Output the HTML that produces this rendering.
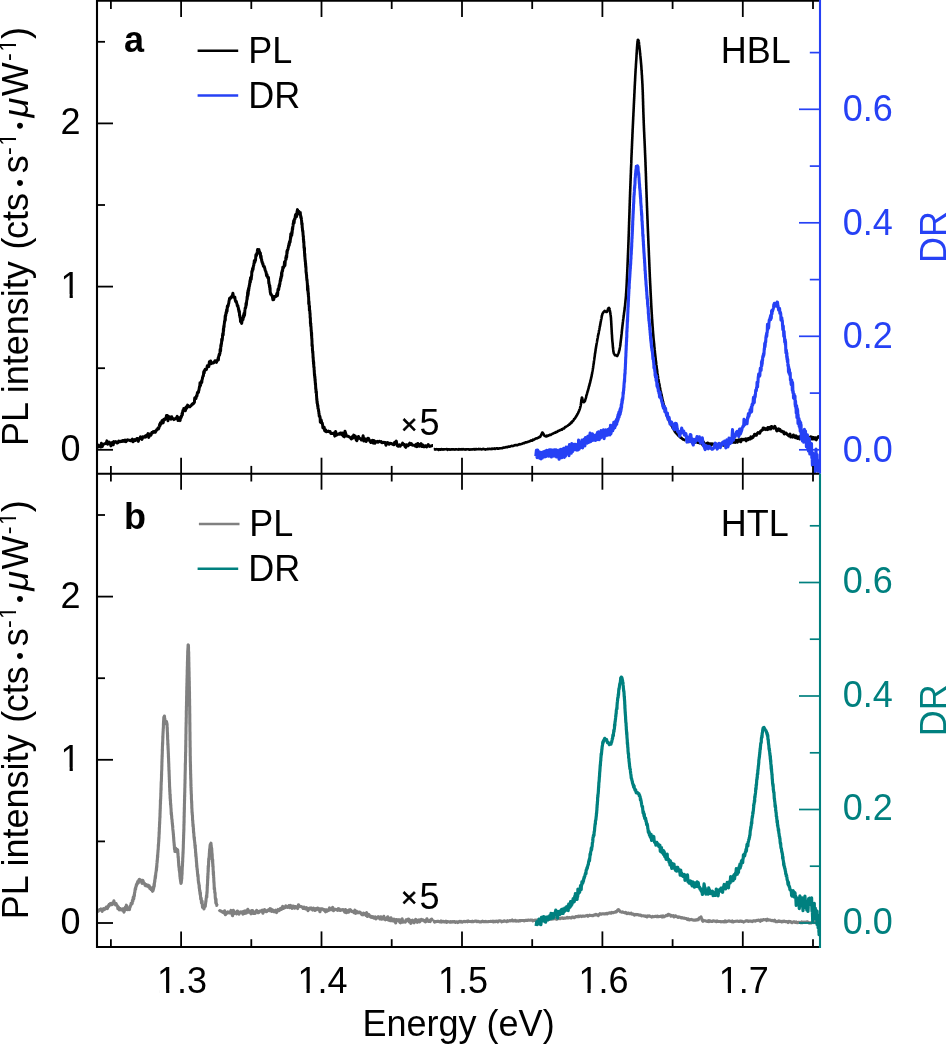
<!DOCTYPE html>
<html lang="en">
<head>
<meta charset="utf-8">
<title>PL intensity and DR spectra</title>
<style>
html,body{margin:0;padding:0;background:#fff;}
body{width:947px;height:1045px;overflow:hidden;font-family:"Liberation Sans",Arial,Helvetica,sans-serif;}
svg{display:block;}
</style>
</head>
<body>
<svg width="947" height="1045" viewBox="0 0 947 1045" font-family="'Liberation Sans', Arial, Helvetica, sans-serif" font-size="36">
<rect width="947" height="1045" fill="#fff"/>
<g>
<path d="M97.5,911.0 L98.2,911.2 L98.9,910.4 L99.5,909.5 L100.2,909.8 L100.9,909.0 L101.6,910.0 L102.2,911.3 L102.9,909.0 L103.6,908.6 L104.2,909.6 L104.9,909.2 L105.5,908.7 L106.2,907.2 L106.8,907.9 L107.4,908.5 L108.1,905.8 L108.6,906.5 L109.2,904.4 L109.7,904.6 L110.3,903.5 L110.8,904.9 L111.3,903.3 L111.9,904.7 L112.5,904.2 L113.2,903.5 L113.9,900.8 L114.5,903.3 L115.1,904.3 L115.6,904.9 L116.1,903.5 L116.6,905.3 L117.0,905.2 L117.5,906.0 L117.9,908.7 L118.4,907.0 L118.9,908.4 L119.4,909.9 L120.1,908.5 L120.7,909.4 L121.3,909.9 L122.0,910.1 L122.6,908.9 L123.3,910.5 L124.0,912.1 L124.5,908.3 L124.8,910.4 L125.1,908.9 L125.3,907.4 L125.5,909.8 L125.8,907.7 L126.4,905.2 L126.8,907.2 L127.1,908.4 L127.4,908.2 L127.8,909.7 L128.5,908.8 L129.0,909.2 L129.5,909.6 L129.9,906.5 L130.2,906.9 L130.5,905.6 L130.8,905.6 L131.1,903.4 L131.4,903.5 L131.6,903.3 L131.9,903.9 L132.2,903.5 L132.4,900.1 L132.7,900.0 L132.9,901.0 L133.2,897.3 L133.4,898.4 L133.5,898.2 L133.7,899.0 L133.9,897.7 L134.0,895.8 L134.1,895.1 L134.3,894.6 L134.4,895.9 L134.5,893.0 L134.7,892.4 L134.8,892.5 L134.9,891.3 L135.0,890.5 L135.2,888.7 L135.3,889.3 L135.4,888.1 L135.6,889.3 L135.7,888.0 L135.9,886.6 L136.1,886.7 L136.3,884.9 L136.5,885.8 L136.8,883.9 L137.2,884.1 L137.7,881.5 L138.3,882.9 L138.8,880.1 L139.4,879.3 L140.0,880.9 L140.6,880.0 L141.3,881.0 L142.0,883.4 L142.6,880.2 L143.1,880.9 L143.5,882.4 L143.9,883.3 L144.3,883.1 L144.7,883.7 L145.1,885.3 L145.5,885.7 L146.0,884.4 L146.6,885.9 L147.2,886.2 L147.9,885.1 L148.6,886.8 L149.2,885.7 L149.8,888.3 L150.2,888.0 L150.5,888.5 L150.8,888.3 L151.1,889.5 L151.5,887.9 L151.9,889.5 L152.5,891.3 L152.9,887.9 L153.1,890.7 L153.3,887.0 L153.5,889.2 L153.6,886.7 L153.8,887.9 L153.9,886.4 L154.1,883.8 L154.2,886.3 L154.3,885.9 L154.4,883.5 L154.5,882.5 L154.6,882.0 L154.7,880.3 L154.8,882.0 L154.9,879.4 L155.0,879.3 L155.1,877.8 L155.2,877.3 L155.3,875.8 L155.4,878.1 L155.5,875.7 L155.6,876.3 L155.7,874.5 L155.8,873.0 L155.9,872.8 L156.0,871.8 L156.1,871.8 L156.2,870.6 L156.3,870.0 L156.4,868.1 L156.5,868.0 L156.5,870.2 L156.6,866.8 L156.7,865.7 L156.7,866.6 L156.8,867.1 L156.9,863.1 L156.9,863.9 L157.0,862.7 L157.1,860.7 L157.1,862.9 L157.2,861.3 L157.3,860.7 L157.3,859.0 L157.4,859.7 L157.4,857.9 L157.5,857.7 L157.5,855.8 L157.6,855.0 L157.7,857.3 L157.7,854.4 L157.8,854.7 L157.8,853.6 L157.9,852.4 L157.9,851.7 L158.0,852.3 L158.0,850.5 L158.1,850.0 L158.1,849.5 L158.2,850.1 L158.2,848.8 L158.3,847.8 L158.3,846.0 L158.4,844.4 L158.4,846.3 L158.5,845.7 L158.5,843.7 L158.6,843.8 L158.6,843.4 L158.6,842.7 L158.7,842.1 L158.7,839.8 L158.8,841.4 L158.8,837.5 L158.9,839.3 L158.9,838.1 L159.0,837.9 L159.0,838.3 L159.0,837.2 L159.1,833.5 L159.1,832.1 L159.2,834.3 L159.2,831.5 L159.2,832.0 L159.3,832.2 L159.3,828.7 L159.3,827.5 L159.4,829.5 L159.4,828.5 L159.4,827.5 L159.5,827.1 L159.5,825.4 L159.5,823.9 L159.6,824.8 L159.6,823.2 L159.6,821.7 L159.7,823.5 L159.7,822.1 L159.7,822.0 L159.8,819.7 L159.8,819.3 L159.8,818.2 L159.8,817.7 L159.9,818.2 L159.9,816.4 L159.9,817.0 L160.0,816.3 L160.0,817.5 L160.0,812.9 L160.0,814.8 L160.1,813.0 L160.1,812.4 L160.1,810.0 L160.2,810.5 L160.2,811.2 L160.2,809.5 L160.2,809.0 L160.3,807.9 L160.3,808.8 L160.3,806.8 L160.4,803.6 L160.4,804.6 L160.4,802.4 L160.4,800.3 L160.5,802.7 L160.5,804.1 L160.5,802.0 L160.5,799.9 L160.6,799.4 L160.6,801.1 L160.6,799.3 L160.7,798.5 L160.7,797.7 L160.7,797.1 L160.7,797.2 L160.8,796.2 L160.8,795.2 L160.8,793.0 L160.8,794.1 L160.9,792.0 L160.9,793.4 L160.9,790.0 L161.0,790.6 L161.0,790.0 L161.0,787.8 L161.0,790.6 L161.1,789.6 L161.1,786.7 L161.1,787.4 L161.1,786.3 L161.2,782.1 L161.2,784.7 L161.2,783.7 L161.2,783.1 L161.3,781.1 L161.3,781.3 L161.3,780.7 L161.4,781.6 L161.4,779.9 L161.4,778.8 L161.4,779.9 L161.5,776.8 L161.5,776.3 L161.5,773.9 L161.5,777.1 L161.5,775.7 L161.6,775.0 L161.6,774.0 L161.6,772.7 L161.6,772.1 L161.7,770.8 L161.7,770.2 L161.7,769.8 L161.7,770.8 L161.8,769.0 L161.8,767.6 L161.8,766.3 L161.8,765.5 L161.8,767.4 L161.9,765.4 L161.9,764.2 L161.9,763.0 L161.9,761.5 L162.0,762.0 L162.0,762.3 L162.0,760.2 L162.0,759.7 L162.0,759.0 L162.1,758.7 L162.1,756.0 L162.1,756.9 L162.1,755.5 L162.2,756.8 L162.2,754.2 L162.2,755.0 L162.2,755.4 L162.3,752.6 L162.3,751.5 L162.3,751.8 L162.3,750.8 L162.3,749.0 L162.4,750.0 L162.4,751.1 L162.4,747.7 L162.4,747.1 L162.5,745.4 L162.5,746.3 L162.5,743.8 L162.5,743.3 L162.6,745.3 L162.6,742.1 L162.6,743.7 L162.7,743.5 L162.7,741.3 L162.7,741.0 L162.7,741.9 L162.8,738.7 L162.8,737.6 L162.8,736.0 L162.9,736.9 L162.9,737.9 L162.9,736.6 L163.0,733.7 L163.0,733.1 L163.0,732.8 L163.1,733.0 L163.1,731.7 L163.1,731.5 L163.2,730.9 L163.2,729.5 L163.2,729.1 L163.3,728.7 L163.3,727.7 L163.3,727.6 L163.4,728.5 L163.4,726.3 L163.4,725.0 L163.5,722.3 L163.5,724.0 L163.6,720.6 L163.6,720.5 L163.6,722.5 L163.7,721.6 L163.7,719.9 L163.8,717.4 L163.8,718.3 L163.9,717.2 L164.0,718.0 L164.0,719.2 L164.3,716.5 L164.4,716.0 L164.5,716.3 L164.6,718.2 L164.7,718.8 L164.8,718.4 L164.9,720.5 L165.0,719.8 L165.1,723.1 L165.3,723.7 L165.9,723.5 L166.5,721.5 L166.8,723.2 L166.9,723.1 L166.9,723.5 L167.0,724.3 L167.0,723.9 L167.1,724.4 L167.1,727.7 L167.1,727.3 L167.2,728.4 L167.2,730.0 L167.3,727.6 L167.3,729.4 L167.3,731.2 L167.4,732.1 L167.4,731.9 L167.4,734.3 L167.4,734.0 L167.5,733.1 L167.5,734.1 L167.5,736.8 L167.6,737.1 L167.6,735.1 L167.6,739.5 L167.7,739.3 L167.7,740.9 L167.7,739.6 L167.7,740.4 L167.8,740.2 L167.8,745.1 L167.8,742.7 L167.9,745.4 L167.9,743.5 L167.9,745.1 L168.0,743.7 L168.0,745.9 L168.0,748.2 L168.1,746.3 L168.1,749.7 L168.1,749.5 L168.2,748.6 L168.2,750.0 L168.2,750.7 L168.3,751.9 L168.3,752.0 L168.3,752.4 L168.3,753.7 L168.4,753.6 L168.4,754.0 L168.4,756.1 L168.5,757.9 L168.5,755.8 L168.5,758.2 L168.5,758.2 L168.6,758.5 L168.6,761.3 L168.6,760.4 L168.7,763.5 L168.7,761.5 L168.7,763.6 L168.7,763.6 L168.8,763.7 L168.8,765.9 L168.8,765.8 L168.8,767.3 L168.9,767.3 L168.9,766.8 L168.9,768.6 L168.9,769.5 L169.0,771.2 L169.0,769.8 L169.0,771.5 L169.1,770.3 L169.1,773.7 L169.1,772.4 L169.1,772.3 L169.2,775.0 L169.2,777.0 L169.2,774.7 L169.2,775.9 L169.3,777.0 L169.3,777.2 L169.3,779.7 L169.3,779.0 L169.4,779.8 L169.4,782.0 L169.4,781.2 L169.5,783.2 L169.5,782.3 L169.5,782.7 L169.5,782.7 L169.6,787.7 L169.6,785.9 L169.6,787.2 L169.7,787.6 L169.7,788.5 L169.7,789.1 L169.8,791.9 L169.8,789.2 L169.8,789.3 L169.9,790.7 L169.9,791.0 L169.9,794.1 L170.0,794.9 L170.0,793.5 L170.0,793.7 L170.1,795.6 L170.1,798.3 L170.2,794.2 L170.2,798.7 L170.3,797.6 L170.3,800.7 L170.4,799.0 L170.4,800.6 L170.5,799.9 L170.5,801.2 L170.5,804.6 L170.6,804.6 L170.6,803.9 L170.7,804.1 L170.7,803.6 L170.8,806.0 L170.9,807.1 L170.9,807.8 L171.0,808.5 L171.0,808.0 L171.1,809.9 L171.1,810.6 L171.2,812.9 L171.2,814.2 L171.3,812.6 L171.4,812.6 L171.4,814.1 L171.5,814.2 L171.5,814.7 L171.6,816.2 L171.7,815.7 L171.7,818.3 L171.8,818.2 L171.9,819.3 L171.9,819.5 L172.0,819.6 L172.1,820.0 L172.1,821.6 L172.2,821.9 L172.3,823.5 L172.3,823.9 L172.4,823.0 L172.5,825.4 L172.5,824.5 L172.6,826.0 L172.7,827.1 L172.7,825.7 L172.8,828.9 L172.9,829.7 L172.9,830.0 L173.0,830.4 L173.1,831.2 L173.1,831.2 L173.2,832.7 L173.3,833.0 L173.3,834.5 L173.4,833.7 L173.5,836.0 L173.5,836.6 L173.6,837.0 L173.6,837.4 L173.7,839.2 L173.7,837.3 L173.8,840.5 L173.9,840.9 L173.9,841.7 L174.0,842.5 L174.0,842.0 L174.1,843.1 L174.2,844.9 L174.2,845.3 L174.3,845.8 L174.3,844.5 L174.4,847.5 L174.5,849.0 L174.6,849.5 L174.7,849.3 L174.8,847.9 L174.9,851.5 L175.1,850.9 L175.8,848.3 L176.5,851.6 L177.2,849.5 L177.7,850.1 L177.8,851.5 L177.9,854.4 L178.0,853.2 L178.0,854.7 L178.1,857.1 L178.2,857.6 L178.2,856.3 L178.2,856.9 L178.3,856.4 L178.3,857.7 L178.4,859.7 L178.4,860.4 L178.5,860.8 L178.5,862.5 L178.6,861.1 L178.6,862.7 L178.7,864.3 L178.7,864.8 L178.8,866.1 L178.8,866.0 L178.9,865.9 L178.9,867.3 L179.0,866.5 L179.1,866.4 L179.2,869.7 L179.2,869.6 L179.3,870.7 L179.4,869.1 L179.5,871.4 L179.5,871.8 L179.6,872.2 L179.7,871.3 L179.8,874.2 L179.9,876.3 L179.9,876.4 L180.0,876.0 L180.1,877.3 L180.2,878.9 L180.3,875.6 L180.4,879.3 L180.5,880.7 L180.7,881.6 L180.9,883.4 L181.3,882.7 L181.4,881.0 L181.5,880.3 L181.6,880.2 L181.6,878.0 L181.7,877.9 L181.7,878.2 L181.8,878.8 L181.8,875.6 L181.9,875.1 L181.9,874.6 L182.0,875.3 L182.0,873.0 L182.1,874.0 L182.1,870.5 L182.1,870.7 L182.2,870.0 L182.2,870.4 L182.2,870.0 L182.3,866.4 L182.3,866.4 L182.4,867.1 L182.4,865.3 L182.4,863.6 L182.5,865.8 L182.5,864.5 L182.5,863.8 L182.6,862.0 L182.6,863.0 L182.6,860.9 L182.7,861.7 L182.7,858.7 L182.7,858.1 L182.8,858.6 L182.8,856.8 L182.8,857.7 L182.9,856.5 L182.9,854.5 L182.9,854.9 L183.0,853.7 L183.0,854.5 L183.0,852.0 L183.1,851.5 L183.1,852.7 L183.1,853.2 L183.1,852.2 L183.2,849.3 L183.2,848.8 L183.2,849.6 L183.3,847.0 L183.3,845.3 L183.3,845.9 L183.3,845.6 L183.4,843.4 L183.4,841.8 L183.4,841.3 L183.4,843.0 L183.5,840.7 L183.5,840.7 L183.5,840.4 L183.5,840.2 L183.5,838.4 L183.6,838.6 L183.6,836.3 L183.6,836.2 L183.6,834.8 L183.6,836.6 L183.7,834.5 L183.7,833.0 L183.7,832.7 L183.7,832.2 L183.8,832.6 L183.8,829.2 L183.8,829.2 L183.8,829.2 L183.8,831.9 L183.9,829.4 L183.9,827.4 L183.9,827.7 L183.9,828.5 L183.9,825.2 L183.9,824.3 L184.0,825.5 L184.0,823.9 L184.0,823.4 L184.0,821.4 L184.0,823.5 L184.1,822.5 L184.1,820.5 L184.1,819.9 L184.1,816.1 L184.1,818.5 L184.1,816.8 L184.2,816.9 L184.2,816.4 L184.2,814.6 L184.2,812.3 L184.2,814.0 L184.3,812.0 L184.3,811.8 L184.3,810.8 L184.3,810.4 L184.3,807.4 L184.3,810.8 L184.4,809.0 L184.4,809.2 L184.4,809.5 L184.4,806.6 L184.4,803.8 L184.4,804.1 L184.5,803.1 L184.5,803.2 L184.5,803.2 L184.5,800.1 L184.5,802.1 L184.5,799.2 L184.6,800.6 L184.6,799.4 L184.6,798.5 L184.6,798.1 L184.6,796.8 L184.6,796.1 L184.7,794.1 L184.7,795.3 L184.7,796.8 L184.7,796.2 L184.7,794.8 L184.7,793.4 L184.8,791.1 L184.8,792.8 L184.8,790.4 L184.8,789.7 L184.8,788.7 L184.8,788.5 L184.9,787.2 L184.9,786.9 L184.9,785.0 L184.9,785.1 L184.9,787.5 L184.9,784.1 L185.0,783.2 L185.0,783.4 L185.0,782.9 L185.0,780.1 L185.0,780.4 L185.0,781.0 L185.0,779.6 L185.1,778.7 L185.1,779.7 L185.1,776.4 L185.1,776.6 L185.1,775.2 L185.1,776.8 L185.2,772.1 L185.2,772.9 L185.2,772.4 L185.2,773.0 L185.2,772.3 L185.2,772.5 L185.3,768.4 L185.3,770.3 L185.3,768.4 L185.3,767.3 L185.3,768.0 L185.3,765.6 L185.3,763.6 L185.4,764.8 L185.4,762.9 L185.4,763.1 L185.4,763.6 L185.4,762.8 L185.4,763.6 L185.5,760.8 L185.5,758.6 L185.5,758.8 L185.5,757.9 L185.5,756.9 L185.5,758.1 L185.5,756.1 L185.6,753.9 L185.6,756.3 L185.6,754.6 L185.6,754.5 L185.6,753.5 L185.6,753.4 L185.6,752.0 L185.7,752.7 L185.7,751.1 L185.7,750.3 L185.7,749.6 L185.7,746.8 L185.7,747.6 L185.7,746.8 L185.7,746.6 L185.8,744.1 L185.8,746.9 L185.8,744.4 L185.8,742.2 L185.8,740.9 L185.8,741.9 L185.8,741.4 L185.8,740.0 L185.9,740.2 L185.9,738.6 L185.9,739.3 L185.9,737.1 L185.9,737.2 L185.9,737.7 L185.9,738.8 L185.9,734.0 L186.0,733.9 L186.0,732.8 L186.0,734.0 L186.0,731.1 L186.0,731.1 L186.0,730.9 L186.0,729.2 L186.0,728.5 L186.0,728.3 L186.1,725.8 L186.1,725.8 L186.1,726.3 L186.1,726.3 L186.1,725.2 L186.1,722.6 L186.1,723.4 L186.1,724.2 L186.2,723.2 L186.2,721.8 L186.2,720.2 L186.2,721.2 L186.2,719.1 L186.2,717.7 L186.2,717.5 L186.2,719.3 L186.3,717.2 L186.3,717.6 L186.3,715.0 L186.3,716.0 L186.3,713.5 L186.3,713.3 L186.3,715.6 L186.3,713.0 L186.3,710.8 L186.4,710.6 L186.4,710.4 L186.4,710.7 L186.4,708.0 L186.4,705.9 L186.4,706.9 L186.4,706.5 L186.5,705.9 L186.5,706.6 L186.5,704.7 L186.5,704.6 L186.5,701.7 L186.5,703.3 L186.5,704.0 L186.5,701.8 L186.6,700.5 L186.6,699.7 L186.6,700.8 L186.6,697.0 L186.6,697.3 L186.6,697.2 L186.6,696.8 L186.7,694.8 L186.7,694.9 L186.7,693.6 L186.7,693.3 L186.7,692.3 L186.7,690.5 L186.8,691.1 L186.8,691.4 L186.8,688.6 L186.8,688.7 L186.8,689.1 L186.8,686.4 L186.9,687.1 L186.9,685.0 L186.9,686.8 L186.9,687.4 L186.9,686.4 L186.9,683.1 L187.0,683.5 L187.0,682.1 L187.0,681.4 L187.0,682.4 L187.0,678.4 L187.0,680.4 L187.1,678.4 L187.1,679.4 L187.1,677.3 L187.1,675.6 L187.1,676.0 L187.1,675.8 L187.2,674.3 L187.2,674.2 L187.2,672.3 L187.2,669.7 L187.2,672.5 L187.2,671.6 L187.3,670.3 L187.3,669.5 L187.3,669.9 L187.3,667.5 L187.3,666.5 L187.3,666.4 L187.4,667.3 L187.4,663.6 L187.4,665.9 L187.4,663.1 L187.4,661.8 L187.4,663.8 L187.5,661.6 L187.5,659.5 L187.5,659.9 L187.5,660.7 L187.5,660.3 L187.6,657.7 L187.6,658.0 L187.6,657.6 L187.6,655.4 L187.6,655.8 L187.7,654.7 L187.7,653.4 L187.7,652.7 L187.7,652.7 L187.7,651.9 L187.8,650.5 L187.8,650.0 L187.8,651.1 L187.9,649.3 L187.9,649.4 L187.9,649.1 L188.0,647.7 L188.0,648.9 L188.1,644.7 L188.1,645.8 L188.3,645.0 L188.4,648.2 L188.4,648.7 L188.4,645.2 L188.5,647.0 L188.5,649.6 L188.5,650.5 L188.5,651.1 L188.6,650.9 L188.6,652.2 L188.6,653.1 L188.6,653.0 L188.7,654.9 L188.7,651.9 L188.7,655.9 L188.7,654.7 L188.7,657.7 L188.7,657.0 L188.8,656.9 L188.8,659.1 L188.8,658.3 L188.8,659.0 L188.8,659.0 L188.8,661.4 L188.9,662.7 L188.9,664.0 L188.9,663.4 L188.9,665.5 L188.9,665.0 L188.9,665.5 L188.9,667.0 L189.0,668.3 L189.0,667.4 L189.0,668.2 L189.0,669.0 L189.0,670.0 L189.0,669.5 L189.0,672.4 L189.1,671.5 L189.1,673.2 L189.1,672.4 L189.1,674.5 L189.1,675.2 L189.1,675.0 L189.1,678.5 L189.2,677.3 L189.2,679.6 L189.2,679.4 L189.2,678.2 L189.2,679.2 L189.2,680.9 L189.2,681.1 L189.3,681.8 L189.3,682.1 L189.3,681.1 L189.3,683.6 L189.3,682.0 L189.3,685.7 L189.3,685.1 L189.3,685.8 L189.4,687.1 L189.4,688.4 L189.4,687.1 L189.4,687.4 L189.4,688.9 L189.4,688.5 L189.4,690.4 L189.5,694.1 L189.5,691.7 L189.5,694.4 L189.5,692.8 L189.5,695.4 L189.5,695.4 L189.5,696.4 L189.5,697.8 L189.5,699.9 L189.6,698.8 L189.6,699.4 L189.6,698.8 L189.6,701.3 L189.6,701.1 L189.6,703.0 L189.6,702.7 L189.6,705.5 L189.6,701.9 L189.6,704.5 L189.6,706.6 L189.7,705.8 L189.7,706.0 L189.7,707.3 L189.7,706.8 L189.7,709.2 L189.7,712.6 L189.7,711.8 L189.7,709.9 L189.7,710.8 L189.7,712.1 L189.7,714.4 L189.7,713.0 L189.8,713.9 L189.8,716.4 L189.8,717.0 L189.8,716.3 L189.8,716.2 L189.8,716.4 L189.8,718.0 L189.8,717.0 L189.8,721.1 L189.8,720.2 L189.8,722.2 L189.8,724.5 L189.9,724.4 L189.9,722.4 L189.9,725.4 L189.9,726.5 L189.9,725.0 L189.9,725.5 L189.9,727.1 L189.9,726.1 L189.9,730.3 L189.9,726.6 L189.9,728.8 L189.9,730.4 L189.9,731.2 L190.0,732.3 L190.0,733.2 L190.0,733.3 L190.0,735.6 L190.0,732.5 L190.0,735.6 L190.0,735.5 L190.0,737.2 L190.0,738.0 L190.0,737.4 L190.0,738.4 L190.0,740.8 L190.1,740.9 L190.1,740.5 L190.1,744.3 L190.1,745.3 L190.1,741.7 L190.1,744.4 L190.1,747.6 L190.1,746.3 L190.1,746.4 L190.1,746.6 L190.1,746.9 L190.2,748.0 L190.2,748.3 L190.2,750.5 L190.2,749.9 L190.2,750.5 L190.2,750.4 L190.2,752.4 L190.2,752.1 L190.2,753.6 L190.2,755.7 L190.2,755.7 L190.3,756.5 L190.3,757.1 L190.3,757.4 L190.3,757.9 L190.3,758.4 L190.3,760.3 L190.3,758.9 L190.3,762.4 L190.4,761.6 L190.4,761.4 L190.4,762.4 L190.4,762.9 L190.4,764.5 L190.4,764.2 L190.4,767.1 L190.5,765.5 L190.5,764.5 L190.5,767.0 L190.5,766.2 L190.5,769.2 L190.6,771.2 L190.6,771.4 L190.6,769.8 L190.6,771.2 L190.6,774.8 L190.6,773.8 L190.7,774.1 L190.7,776.1 L190.7,778.4 L190.7,777.7 L190.7,777.1 L190.8,778.0 L190.8,779.1 L190.8,778.3 L190.8,778.5 L190.8,780.5 L190.9,780.1 L190.9,781.8 L190.9,782.6 L190.9,785.9 L190.9,783.0 L191.0,784.5 L191.0,785.1 L191.0,786.5 L191.0,787.9 L191.0,786.9 L191.1,787.2 L191.1,786.9 L191.1,788.5 L191.1,790.9 L191.2,791.0 L191.2,790.5 L191.2,791.9 L191.2,793.1 L191.3,794.3 L191.3,793.8 L191.3,794.8 L191.3,793.7 L191.4,795.2 L191.4,799.1 L191.4,795.4 L191.4,798.2 L191.5,799.6 L191.5,799.6 L191.5,799.8 L191.6,801.4 L191.6,802.1 L191.6,802.7 L191.7,801.4 L191.7,804.1 L191.7,803.9 L191.8,805.0 L191.8,806.6 L191.8,807.8 L191.9,808.8 L191.9,807.8 L192.0,810.2 L192.0,811.2 L192.0,811.8 L192.1,812.8 L192.1,811.7 L192.2,812.4 L192.2,814.3 L192.2,812.4 L192.3,814.9 L192.3,814.8 L192.4,815.7 L192.4,814.8 L192.5,816.5 L192.5,818.2 L192.6,819.9 L192.6,820.7 L192.7,820.2 L192.7,820.8 L192.8,820.7 L192.8,822.9 L192.9,822.8 L192.9,824.5 L193.0,826.5 L193.1,825.1 L193.1,824.2 L193.2,825.6 L193.2,825.6 L193.3,826.6 L193.4,830.2 L193.4,829.6 L193.5,828.3 L193.5,831.5 L193.6,832.9 L193.7,831.7 L193.7,832.1 L193.8,833.2 L193.9,834.6 L193.9,835.7 L194.0,837.0 L194.1,837.7 L194.2,838.4 L194.2,839.3 L194.3,839.2 L194.4,837.4 L194.4,839.7 L194.5,840.9 L194.6,840.8 L194.7,843.0 L194.7,842.2 L194.8,842.2 L194.9,845.7 L194.9,845.5 L195.0,845.6 L195.1,847.1 L195.1,848.0 L195.2,847.9 L195.3,845.3 L195.3,848.1 L195.4,849.0 L195.5,849.1 L195.5,851.2 L195.6,853.0 L195.7,851.8 L195.7,851.7 L195.8,856.1 L195.8,853.9 L195.9,853.7 L196.0,856.1 L196.0,857.0 L196.1,856.4 L196.2,858.8 L196.2,858.1 L196.3,858.3 L196.3,860.2 L196.4,861.6 L196.5,860.7 L196.5,862.5 L196.6,862.7 L196.7,866.8 L196.7,863.4 L196.8,866.5 L196.9,865.5 L196.9,866.2 L197.0,867.8 L197.1,868.7 L197.1,869.8 L197.2,869.5 L197.3,869.1 L197.3,869.9 L197.4,871.8 L197.5,872.5 L197.6,874.2 L197.6,873.7 L197.7,875.2 L197.8,876.4 L197.8,875.5 L197.9,874.3 L198.0,875.4 L198.1,875.8 L198.2,880.0 L198.2,877.9 L198.3,880.9 L198.4,880.9 L198.5,882.9 L198.6,882.8 L198.7,882.2 L198.7,882.8 L198.8,883.8 L198.9,884.6 L199.0,884.5 L199.1,885.7 L199.2,888.3 L199.3,885.2 L199.3,888.2 L199.4,887.5 L199.5,889.5 L199.6,890.9 L199.7,890.6 L199.8,892.2 L199.9,890.2 L200.0,894.0 L200.1,892.7 L200.2,894.8 L200.3,895.0 L200.4,892.5 L200.5,895.3 L200.6,897.1 L200.7,899.3 L200.9,898.6 L201.0,899.2 L201.2,898.0 L201.4,901.9 L201.5,903.0 L201.7,901.7 L201.9,902.1 L202.1,901.1 L202.3,904.7 L202.5,907.4 L202.7,905.8 L203.0,907.1 L203.3,906.9 L203.6,905.8 L204.0,909.0 L204.6,905.8 L204.9,906.3 L205.1,906.2 L205.3,906.3 L205.4,905.0 L205.5,904.3 L205.7,902.3 L205.8,901.0 L205.9,901.9 L206.0,900.3 L206.1,898.9 L206.2,898.3 L206.3,898.5 L206.4,896.2 L206.5,896.1 L206.6,895.1 L206.7,896.5 L206.8,896.0 L206.8,897.2 L206.9,892.4 L206.9,892.7 L207.0,893.8 L207.0,891.8 L207.1,891.0 L207.1,892.6 L207.2,889.6 L207.2,887.9 L207.2,887.1 L207.3,888.3 L207.3,887.5 L207.3,884.9 L207.4,884.6 L207.4,885.7 L207.5,885.0 L207.5,882.9 L207.5,883.7 L207.6,882.9 L207.6,879.5 L207.6,880.5 L207.7,880.7 L207.7,878.8 L207.7,876.3 L207.8,877.8 L207.8,878.3 L207.8,878.5 L207.9,873.5 L207.9,878.3 L207.9,873.3 L208.0,875.0 L208.0,874.6 L208.0,873.6 L208.1,872.0 L208.1,869.8 L208.1,871.1 L208.2,868.9 L208.2,866.1 L208.2,871.6 L208.3,868.4 L208.3,869.0 L208.4,865.2 L208.4,867.2 L208.5,866.6 L208.5,865.9 L208.6,863.4 L208.6,861.3 L208.7,861.8 L208.7,858.8 L208.8,858.7 L208.8,860.0 L208.9,858.1 L209.0,858.3 L209.0,857.7 L209.1,859.4 L209.1,857.9 L209.2,855.7 L209.3,856.4 L209.3,853.4 L209.4,853.3 L209.4,854.0 L209.5,850.8 L209.6,851.2 L209.6,849.3 L209.7,850.3 L209.8,851.3 L209.8,847.9 L209.9,848.3 L210.0,846.3 L210.1,845.4 L210.2,844.6 L210.3,847.0 L210.4,847.3 L210.6,844.5 L211.0,843.2 L211.1,845.5 L211.2,845.0 L211.3,847.0 L211.4,847.1 L211.5,847.8 L211.5,848.9 L211.6,848.2 L211.7,849.1 L211.7,848.3 L211.8,850.5 L211.8,850.0 L211.9,852.2 L211.9,852.0 L212.0,853.9 L212.1,855.0 L212.1,853.5 L212.2,854.9 L212.2,855.5 L212.3,858.1 L212.3,859.9 L212.4,859.6 L212.4,858.9 L212.5,861.7 L212.5,859.0 L212.6,863.2 L212.7,861.4 L212.7,859.6 L212.8,866.6 L212.8,866.0 L212.9,863.7 L212.9,865.8 L213.0,866.1 L213.0,867.1 L213.1,866.0 L213.1,867.6 L213.1,869.7 L213.2,870.1 L213.2,871.9 L213.3,871.3 L213.3,874.6 L213.4,871.8 L213.4,873.6 L213.5,871.8 L213.5,873.3 L213.5,876.9 L213.6,875.0 L213.6,877.4 L213.7,877.4 L213.7,877.0 L213.8,878.5 L213.8,879.0 L213.8,879.7 L213.9,881.9 L213.9,882.4 L214.0,881.7 L214.0,882.0 L214.1,884.1 L214.1,884.4 L214.2,886.4 L214.2,888.9 L214.3,887.6 L214.3,887.2 L214.4,887.8 L214.4,887.7 L214.5,888.3 L214.6,888.9 L214.6,890.3 L214.7,891.0 L214.8,893.0 L214.9,892.4 L215.0,893.3 L215.1,892.8 L215.2,896.8 L215.2,896.2 L215.3,898.4 L215.4,897.9 L215.5,899.4 L215.6,898.1 L215.7,899.9 L215.8,902.9 L216.0,899.1 L216.1,902.5 L216.2,903.8 L216.3,903.0 L216.5,904.1 L216.7,905.4 L217.0,903.8" fill="none" stroke="#808080" stroke-width="3.1" stroke-linejoin="round" stroke-linecap="butt"/>
<path d="M219.1,911.9 L219.9,910.6 L220.7,911.0 L221.4,911.2 L222.2,911.9 L223.0,912.4 L223.8,912.8 L224.6,910.8 L225.4,914.6 L226.2,913.7 L227.0,913.2 L227.8,912.0 L228.6,912.3 L229.4,913.0 L230.2,912.9 L231.0,910.5 L231.8,913.2 L232.6,915.7 L233.4,910.3 L234.2,913.5 L235.0,912.8 L235.8,912.3 L236.6,913.9 L237.4,911.1 L238.2,912.6 L239.0,914.1 L239.8,912.2 L240.6,911.9 L241.4,912.5 L242.2,911.9 L243.0,914.1 L243.8,911.4 L244.6,913.4 L245.4,911.0 L246.2,913.1 L247.0,912.2 L247.8,909.4 L248.6,912.2 L249.4,911.0 L250.2,911.6 L251.0,913.8 L251.8,910.7 L252.6,910.7 L253.4,913.4 L254.2,911.9 L255.0,913.4 L255.8,911.9 L256.6,910.5 L257.4,911.3 L258.2,912.7 L259.0,912.3 L259.7,911.2 L260.5,911.2 L261.3,910.9 L262.1,910.3 L262.9,913.1 L263.7,910.9 L264.5,909.6 L265.3,910.3 L266.1,911.6 L266.9,911.4 L267.7,910.5 L268.5,909.9 L269.3,910.6 L270.1,908.7 L270.9,909.0 L271.7,911.4 L272.5,909.9 L273.3,910.8 L274.1,911.7 L274.9,911.0 L275.7,910.2 L276.5,912.5 L277.3,910.8 L278.1,909.5 L278.9,910.6 L279.7,910.1 L280.5,908.5 L281.2,909.3 L282.0,908.8 L282.7,906.5 L283.5,908.3 L284.3,907.9 L285.0,907.5 L285.8,905.9 L286.6,907.1 L287.3,907.3 L288.1,907.2 L288.9,905.7 L289.7,907.6 L290.5,905.4 L291.3,906.5 L292.1,908.3 L292.9,906.1 L293.7,906.3 L294.5,908.2 L295.3,906.6 L296.1,906.8 L296.9,907.4 L297.7,908.5 L298.5,904.9 L299.2,906.5 L300.0,906.4 L300.8,906.5 L301.6,906.9 L302.4,907.0 L303.2,908.4 L304.0,907.2 L304.8,908.4 L305.6,908.9 L306.4,907.7 L307.2,908.8 L308.0,910.5 L308.8,909.1 L309.6,908.1 L310.4,908.9 L311.1,908.0 L311.9,909.3 L312.7,910.0 L313.5,908.2 L314.3,908.9 L315.1,910.4 L315.9,908.7 L316.7,909.5 L317.5,908.1 L318.3,908.4 L319.1,908.7 L319.9,911.7 L320.7,908.9 L321.5,908.8 L322.3,908.8 L323.1,909.3 L323.9,910.2 L324.7,909.7 L325.5,911.8 L326.3,909.8 L327.1,911.1 L327.9,909.9 L328.7,910.3 L329.5,908.0 L330.3,909.5 L331.1,909.6 L331.9,909.4 L332.7,907.4 L333.5,910.7 L334.3,909.4 L335.1,909.3 L335.9,909.6 L336.7,909.7 L337.5,910.4 L338.3,908.6 L339.1,909.0 L339.9,910.4 L340.7,910.3 L341.5,909.9 L342.3,909.7 L343.1,909.5 L343.9,910.5 L344.7,912.0 L345.5,909.6 L346.3,912.6 L347.1,912.0 L347.8,910.7 L348.6,912.2 L349.4,909.9 L350.2,909.7 L351.0,910.4 L351.8,911.5 L352.6,911.7 L353.3,911.7 L354.1,912.5 L354.9,910.2 L355.7,913.3 L356.5,911.3 L357.3,912.3 L358.0,912.8 L358.8,912.1 L359.6,912.0 L360.4,912.6 L361.2,913.8 L362.0,914.6 L362.8,914.8 L363.5,913.2 L364.3,913.6 L365.1,913.6 L365.9,915.3 L366.7,912.7 L367.4,916.5 L368.2,914.8 L369.0,914.7 L369.8,916.1 L370.6,917.0 L371.3,916.5 L372.1,917.4 L372.9,916.6 L373.7,918.0 L374.4,918.2 L375.2,916.9 L376.0,918.8 L376.8,917.6 L377.6,917.7 L378.3,916.7 L379.1,917.6 L379.9,918.9 L380.7,916.8 L381.5,919.1 L382.3,918.9 L383.1,919.0 L383.8,916.4 L384.6,918.8 L385.4,919.8 L386.2,918.3 L387.0,919.4 L387.8,916.8 L388.6,920.2 L389.4,918.9 L390.2,920.7 L391.0,917.8 L391.8,920.7 L392.6,919.8 L393.4,921.0 L394.1,919.2 L394.9,919.6 L395.7,922.9 L396.5,919.6 L397.3,919.8 L398.1,920.3 L398.9,919.6 L399.7,922.0 L400.5,922.7 L401.3,920.0 L402.1,918.9 L402.9,922.1 L403.7,922.0 L404.5,921.7 L405.3,922.1 L406.1,919.8 L406.9,920.6 L407.7,919.3 L408.5,919.2 L409.3,921.9 L410.1,920.1 L410.9,923.3 L411.7,920.9 L412.5,920.1 L413.3,921.7 L414.1,922.7 L414.9,921.3 L415.7,919.4 L416.5,921.2 L417.3,922.2 L418.1,920.2 L418.9,919.9 L419.7,921.8 L420.5,920.8 L421.3,919.4 L422.1,920.2 L422.9,919.8 L423.7,920.9 L424.5,920.7 L425.3,921.8 L426.1,921.3 L426.9,918.8 L427.7,920.9 L428.5,921.4 L429.3,920.9 L430.1,921.5 L430.9,919.7 L431.7,919.2 L432.5,921.3" fill="none" stroke="#808080" stroke-width="3.2" stroke-linejoin="round" stroke-linecap="butt"/>
<path d="M433.0,921.4 L433.8,921.0 L434.6,922.2 L435.4,921.5 L436.2,921.7 L437.0,921.3 L437.8,921.3 L438.6,921.4 L439.4,921.7 L440.2,921.9 L441.0,921.0 L441.8,922.0 L442.6,921.4 L443.4,921.4 L444.2,922.0 L445.0,921.7 L445.8,921.2 L446.6,922.4 L447.4,921.5 L448.2,921.8 L449.0,921.8 L449.8,922.2 L450.6,921.6 L451.4,922.1 L452.2,921.5 L453.0,922.1 L453.8,921.5 L454.6,921.6 L455.4,922.4 L456.2,921.8 L457.0,921.7 L457.8,922.5 L458.6,921.8 L459.4,921.4 L460.2,921.9 L461.0,921.3 L461.8,922.1 L462.6,922.1 L463.4,921.5 L464.2,921.4 L465.0,921.7 L465.8,921.6 L466.6,921.3 L467.4,921.8 L468.2,920.9 L469.0,921.5 L469.8,921.5 L470.6,921.5 L471.4,921.7 L472.2,921.2 L473.0,921.8 L473.8,921.5 L474.6,921.3 L475.4,921.1 L476.2,921.1 L477.0,921.7 L477.8,921.2 L478.6,921.5 L479.4,921.9 L480.2,921.9 L481.0,922.0 L481.8,921.4 L482.6,921.1 L483.4,921.8 L484.2,921.5 L485.0,921.8 L485.8,921.4 L486.6,921.8 L487.4,921.7 L488.2,921.6 L489.0,921.5 L489.8,921.5 L490.6,921.4 L491.4,921.4 L492.2,921.6 L493.0,921.1 L493.8,921.9 L494.6,921.2 L495.4,921.6 L496.2,921.2 L497.0,921.1 L497.8,921.9 L498.6,921.1 L499.4,920.7 L500.2,920.9 L501.0,921.0 L501.8,921.9 L502.6,921.2 L503.4,921.4 L504.2,920.7 L505.0,921.1 L505.8,921.2 L506.6,921.6 L507.4,920.7 L508.2,921.2 L509.0,921.0 L509.8,920.5 L510.6,920.9 L511.4,920.8 L512.2,920.0 L513.0,921.0 L513.8,921.0 L514.6,920.6 L515.4,920.3 L516.2,921.2 L517.0,920.8 L517.8,921.0 L518.6,921.2 L519.4,920.5 L520.2,920.9 L521.0,920.5 L521.8,920.5 L522.6,920.5 L523.4,920.5 L524.2,920.9 L525.0,920.5 L525.8,920.4 L526.6,920.3 L527.4,920.5 L528.2,920.0 L529.0,920.2 L529.8,920.3 L530.6,920.1 L531.4,920.2 L532.2,920.0 L533.0,920.9 L533.8,920.6 L534.6,920.3 L535.4,920.1 L536.2,920.8 L537.0,920.1 L537.8,919.9 L538.6,920.0 L539.4,920.0 L540.2,920.3 L541.0,919.8 L541.8,920.5 L542.6,919.4 L543.4,919.9 L544.2,919.3 L545.0,920.2 L545.8,919.4 L546.6,919.5 L547.4,919.7 L548.2,919.8 L549.0,918.9 L549.8,919.1 L550.6,918.7 L551.4,919.2 L552.1,919.1 L552.9,918.9 L553.7,918.7 L554.5,918.8 L555.3,918.6 L556.1,919.0 L556.9,919.3 L557.7,918.0 L558.5,918.6 L559.3,918.4 L560.1,918.7 L560.9,918.1 L561.7,918.3 L562.5,917.9 L563.3,918.5 L564.1,918.2 L564.9,918.0 L565.7,918.1 L566.5,917.9 L567.3,917.3 L568.1,918.0 L568.9,917.8 L569.7,917.6 L570.5,917.9 L571.3,917.9 L572.1,917.0 L572.9,917.0 L573.7,917.7 L574.5,917.6 L575.3,916.8 L576.0,916.5 L576.8,916.6 L577.6,916.6 L578.4,916.1 L579.2,916.6 L580.0,916.0 L580.8,916.0 L581.6,916.6 L582.4,916.0 L583.2,916.1 L584.0,916.3 L584.8,916.3 L585.6,915.8 L586.4,915.8 L587.2,915.4 L588.0,916.3 L588.8,915.8 L589.6,915.1 L590.4,915.4 L591.2,915.6 L592.0,915.4 L592.8,915.8 L593.6,915.6 L594.3,914.8 L595.1,914.9 L595.9,914.4 L596.7,914.9 L597.5,914.8 L598.3,915.6 L599.1,914.6 L599.9,913.7 L600.7,914.1 L601.5,914.3 L602.3,913.8 L603.1,913.8 L603.9,913.9 L604.7,914.0 L605.5,913.7 L606.3,913.4 L607.1,913.9 L607.9,913.3 L608.7,913.2 L609.4,912.8 L610.2,912.9 L611.0,913.2 L611.8,912.3 L612.6,912.7 L613.4,912.8 L614.2,912.3 L614.9,912.3 L615.7,911.5 L616.3,911.9 L616.9,911.3 L617.5,910.4 L618.3,909.5 L619.0,910.0 L619.7,911.1 L620.3,911.8 L621.0,911.7 L621.8,912.3 L622.5,911.9 L623.3,912.3 L624.1,912.6 L624.9,912.9 L625.7,912.4 L626.4,913.4 L627.2,913.7 L628.0,913.0 L628.8,913.0 L629.6,913.8 L630.4,913.6 L631.2,913.1 L631.9,914.3 L632.7,914.2 L633.5,914.1 L634.3,915.2 L635.1,914.6 L635.9,914.4 L636.7,914.8 L637.5,914.5 L638.3,914.7 L639.1,915.2 L639.9,915.0 L640.7,915.1 L641.5,915.9 L642.3,915.8 L643.0,915.8 L643.8,915.9 L644.6,916.0 L645.4,916.4 L646.2,916.0 L647.0,916.8 L647.8,915.9 L648.6,916.2 L649.4,915.9 L650.2,916.3 L651.0,916.7 L651.8,917.1 L652.6,916.4 L653.4,916.7 L654.2,916.6 L655.0,916.4 L655.8,916.3 L656.6,916.7 L657.4,916.1 L658.2,916.7 L659.0,916.6 L659.8,916.4 L660.6,916.2 L661.4,916.0 L662.2,917.1 L663.0,915.9 L663.8,916.9 L664.6,916.5 L665.4,916.0 L666.1,915.4 L666.8,915.8 L667.4,915.6 L668.2,914.3 L668.9,914.3 L669.7,915.0 L670.4,915.1 L671.0,916.2 L671.8,915.5 L672.6,916.1 L673.4,915.7 L674.1,917.0 L674.9,916.1 L675.7,915.8 L676.5,916.6 L677.3,916.7 L678.1,917.5 L678.9,916.9 L679.7,917.1 L680.5,917.4 L681.3,917.9 L682.0,917.5 L682.8,918.0 L683.6,918.1 L684.4,918.0 L685.1,918.4 L685.9,918.6 L686.6,918.5 L687.4,919.5 L688.2,918.8 L689.0,919.9 L689.8,919.9 L690.5,919.6 L691.3,919.4 L692.1,919.7 L692.9,920.0 L693.7,920.1 L694.5,920.0 L695.3,920.3 L696.1,919.8 L696.9,920.1 L697.7,919.4 L698.3,919.7 L698.8,918.8 L699.2,918.0 L699.7,917.9 L700.5,917.5 L701.0,916.8 L701.4,918.5 L701.8,918.7 L702.2,920.3 L702.8,921.3 L703.5,920.5 L704.3,920.8 L705.1,920.8 L705.9,921.0 L706.7,921.2 L707.5,921.4 L708.3,920.7 L709.1,921.6 L709.9,920.7 L710.7,921.2 L711.5,921.5 L712.3,921.4 L713.1,920.8 L713.9,921.0 L714.7,921.1 L715.5,921.2 L716.3,921.7 L717.1,920.8 L717.9,921.5 L718.7,921.5 L719.5,921.5 L720.3,921.5 L721.1,921.9 L721.9,921.6 L722.7,921.7 L723.5,921.6 L724.3,922.0 L725.1,920.8 L725.9,921.9 L726.7,921.4 L727.5,921.4 L728.3,921.1 L729.1,920.8 L729.9,921.3 L730.7,921.2 L731.5,921.7 L732.3,921.0 L733.1,922.0 L733.9,921.6 L734.7,921.4 L735.5,921.2 L736.3,921.2 L737.1,921.1 L737.9,921.3 L738.7,921.5 L739.5,921.4 L740.3,921.0 L741.1,921.4 L741.9,921.2 L742.7,921.5 L743.5,922.1 L744.3,921.7 L745.1,921.3 L745.9,920.8 L746.7,920.9 L747.5,920.7 L748.3,921.5 L749.1,921.0 L749.9,921.2 L750.7,921.0 L751.5,921.2 L752.3,921.6 L753.1,920.8 L753.9,920.9 L754.7,920.7 L755.5,921.2 L756.3,920.5 L757.1,920.4 L757.9,920.2 L758.7,920.1 L759.5,920.7 L760.3,921.3 L761.1,919.9 L761.9,920.5 L762.6,920.2 L763.4,919.6 L764.2,919.8 L765.0,919.7 L765.8,919.6 L766.6,920.5 L767.4,919.2 L768.2,920.0 L769.0,920.1 L769.8,919.9 L770.6,920.2 L771.4,920.6 L772.2,920.4 L773.0,920.7 L773.8,920.9 L774.6,920.1 L775.4,921.4 L776.1,921.8 L776.9,921.5 L777.7,921.6 L778.5,920.9 L779.3,921.4 L780.1,921.2 L780.9,921.3 L781.7,921.9 L782.5,921.3 L783.3,921.6 L784.1,921.0 L784.9,921.6 L785.7,921.8 L786.5,921.5 L787.3,921.5 L788.1,922.5 L788.9,921.4 L789.7,921.5 L790.5,921.6 L791.3,922.4 L792.1,922.7 L792.9,922.1 L793.7,921.8 L794.5,921.9 L795.3,922.5 L796.1,921.8 L796.9,922.6 L797.7,922.7 L798.5,922.2 L799.3,922.4 L800.1,922.5 L800.9,922.8 L801.7,921.9 L802.5,922.7 L803.3,922.2 L804.1,922.1 L804.9,922.4 L805.7,922.3 L806.5,922.0 L807.3,921.8 L808.1,922.1 L808.9,922.9 L809.7,923.1 L810.5,922.7 L811.3,922.9 L812.1,922.3 L812.9,922.4 L813.7,922.6 L814.5,922.1 L815.3,922.1 L816.1,922.5 L816.9,922.4 L817.7,922.1 L818.5,922.6 L819.3,922.4" fill="none" stroke="#808080" stroke-width="3.1" stroke-linejoin="round" stroke-linecap="butt"/>
<path d="M536.1,926.0 L536.7,921.9 L537.3,924.5 L537.9,921.2 L538.5,924.0 L539.1,919.0 L539.7,924.1 L540.3,921.7 L540.9,924.7 L541.5,917.4 L542.1,921.0 L542.6,917.0 L543.2,920.9 L543.8,916.6 L544.4,921.4 L545.0,917.9 L545.6,922.2 L546.2,917.1 L546.8,919.9 L547.4,917.2 L548.0,919.9 L548.6,916.7 L549.2,919.3 L549.8,915.6 L550.4,918.8 L551.0,913.3 L551.6,916.3 L552.2,913.6 L552.8,918.1 L553.4,914.4 L554.0,917.3 L554.6,913.1 L555.2,913.4 L555.8,910.1 L556.4,914.2 L557.0,911.2 L557.6,918.2 L558.1,912.9 L558.7,914.7 L559.3,911.3 L559.8,914.4 L560.4,910.9 L560.9,913.6 L561.5,909.6 L562.0,913.3 L562.6,909.0 L563.1,913.5 L563.6,909.2 L564.2,911.8 L564.7,908.0 L565.2,910.6 L565.7,907.7 L566.2,910.1 L566.7,906.6 L567.2,908.0 L567.7,906.1 L568.2,910.6 L568.7,904.0 L569.2,908.0 L569.7,904.4 L570.1,907.2 L570.6,901.5 L571.0,905.9 L571.5,903.6 L571.9,904.5 L572.3,901.0 L572.7,902.3 L573.2,898.5 L573.6,902.2 L573.9,899.4 L574.3,901.7 L574.7,896.4 L575.1,897.9 L575.4,893.5 L575.8,899.0 L576.1,894.7 L576.5,899.3 L576.8,897.7 L577.1,899.4 L577.4,894.4 L577.7,896.8 L577.9,889.1 L578.2,892.0 L578.5,890.2 L578.7,893.3 L579.0,890.3 L579.3,892.7 L579.5,889.0 L579.7,892.2 L580.0,888.6 L580.2,890.2 L580.5,885.7 L580.7,887.3 L580.9,885.7 L581.2,889.6 L581.4,885.9 L581.6,885.7 L581.9,881.9 L582.1,884.4 L582.3,882.2 L582.6,882.9 L582.8,881.1 L583.0,882.6 L583.2,880.3 L583.5,881.1 L583.7,878.5 L583.9,879.1 L584.1,877.2 L584.3,878.0 L584.5,876.8 L584.8,876.4 L585.0,875.2 L585.2,874.3 L585.4,873.5 L585.6,873.9 L585.8,872.4 L586.0,873.7 L586.1,870.6 L586.3,869.8 L586.5,869.4 L586.7,869.7 L586.9,867.8 L587.1,868.8 L587.2,868.3 L587.4,867.8 L587.6,866.6 L587.7,866.3 L587.9,865.2 L588.1,864.6 L588.2,864.7 L588.4,864.5 L588.5,862.7 L588.7,861.6 L588.8,861.1 L589.0,861.7 L589.1,860.5 L589.2,859.3 L589.4,859.1 L589.5,861.0 L589.6,859.7 L589.8,857.5 L589.9,857.3 L590.0,854.5 L590.2,853.7 L590.3,854.4 L590.4,854.7 L590.5,854.4 L590.6,852.2 L590.8,851.6 L590.9,851.6 L591.0,850.8 L591.1,850.0 L591.2,848.7 L591.3,848.0 L591.5,848.9 L591.6,849.8 L591.7,849.1 L591.8,847.3 L591.9,847.0 L592.0,846.9 L592.1,846.6 L592.2,846.0 L592.3,844.0 L592.4,842.8 L592.6,842.4 L592.7,841.8 L592.8,841.1 L592.9,839.7 L593.0,837.5 L593.1,837.0 L593.2,836.4 L593.3,836.2 L593.4,837.0 L593.5,835.2 L593.6,835.0 L593.7,836.1 L593.8,835.0 L593.9,834.9 L594.0,835.5 L594.1,832.9 L594.2,831.7 L594.3,832.1 L594.4,831.1 L594.5,830.8 L594.6,829.4 L594.7,827.7 L594.8,827.0 L594.9,826.3 L594.9,826.1 L595.0,825.0 L595.1,823.8 L595.2,824.4 L595.3,824.4 L595.4,823.6 L595.4,821.8 L595.5,820.5 L595.6,820.7 L595.7,820.5 L595.8,819.9 L595.8,819.8 L595.9,819.5 L596.0,818.3 L596.1,817.6 L596.1,817.4 L596.2,816.5 L596.3,816.1 L596.3,816.0 L596.4,814.8 L596.4,813.9 L596.5,813.4 L596.6,813.4 L596.6,813.0 L596.7,812.0 L596.7,811.3 L596.8,810.5 L596.9,810.0 L596.9,809.3 L597.0,806.7 L597.0,806.8 L597.1,807.5 L597.1,805.3 L597.2,804.5 L597.2,804.0 L597.3,804.8 L597.3,804.9 L597.4,802.1 L597.4,801.5 L597.5,801.5 L597.5,801.7 L597.6,800.7 L597.6,797.6 L597.7,797.6 L597.7,798.0 L597.8,797.1 L597.8,795.4 L597.9,795.3 L597.9,796.8 L598.0,794.8 L598.0,793.9 L598.1,794.0 L598.1,794.0 L598.2,794.0 L598.3,791.9 L598.3,791.6 L598.4,791.4 L598.4,789.7 L598.5,789.2 L598.5,788.6 L598.6,786.5 L598.6,787.3 L598.7,787.5 L598.7,785.4 L598.8,785.1 L598.8,783.9 L598.9,782.3 L598.9,782.3 L599.0,782.1 L599.0,781.8 L599.1,782.0 L599.1,781.1 L599.2,780.1 L599.2,780.0 L599.3,778.5 L599.3,777.6 L599.4,777.1 L599.4,776.9 L599.5,777.0 L599.5,775.8 L599.6,774.2 L599.6,773.6 L599.6,773.2 L599.7,772.9 L599.7,772.6 L599.8,771.1 L599.8,771.0 L599.9,771.2 L599.9,769.8 L600.0,769.3 L600.0,768.9 L600.1,767.4 L600.1,767.0 L600.2,766.1 L600.2,765.2 L600.3,764.8 L600.3,765.2 L600.4,765.5 L600.4,763.9 L600.5,763.3 L600.5,762.7 L600.6,761.4 L600.7,761.3 L600.7,760.6 L600.8,760.8 L600.8,760.1 L600.9,757.5 L601.0,757.4 L601.0,757.2 L601.1,755.7 L601.2,753.7 L601.3,753.7 L601.3,755.1 L601.4,754.4 L601.5,753.8 L601.5,753.6 L601.6,752.4 L601.7,751.4 L601.8,750.4 L601.8,749.0 L601.9,749.4 L602.0,749.1 L602.1,747.2 L602.2,746.5 L602.3,746.5 L602.4,745.2 L602.5,744.9 L602.6,744.5 L602.7,742.8 L602.9,741.8 L603.1,743.0 L603.3,742.1 L603.5,740.7 L603.7,741.2 L604.0,740.8 L604.3,739.3 L604.7,738.3 L605.3,739.0 L605.8,740.0 L606.2,740.1 L606.6,739.6 L607.0,741.0 L607.4,742.7 L607.8,742.8 L608.2,742.4 L608.6,743.0 L609.0,743.9 L609.4,744.6 L610.0,744.3 L610.6,743.9 L611.0,744.0 L611.2,742.8 L611.4,742.3 L611.6,742.3 L611.8,741.4 L611.9,740.9 L612.1,739.8 L612.2,738.9 L612.3,739.2 L612.5,738.8 L612.6,738.5 L612.7,737.1 L612.9,735.0 L613.0,735.2 L613.1,735.6 L613.3,735.9 L613.4,735.4 L613.5,733.2 L613.6,732.6 L613.7,732.0 L613.8,730.1 L613.9,731.3 L614.0,731.6 L614.1,730.0 L614.2,729.5 L614.3,729.4 L614.4,728.6 L614.5,727.7 L614.5,726.3 L614.6,724.3 L614.7,724.9 L614.8,725.8 L614.9,724.7 L614.9,723.4 L615.0,722.6 L615.1,721.4 L615.2,721.5 L615.2,721.6 L615.3,720.4 L615.4,719.6 L615.5,719.2 L615.5,718.7 L615.6,717.9 L615.7,716.3 L615.8,715.5 L615.8,716.7 L615.9,715.5 L616.0,713.6 L616.1,713.7 L616.2,713.7 L616.2,712.9 L616.3,710.8 L616.4,710.1 L616.5,709.7 L616.6,708.4 L616.6,708.6 L616.7,708.3 L616.8,707.8 L616.9,709.0 L617.0,708.3 L617.0,706.4 L617.1,704.8 L617.2,703.5 L617.3,702.7 L617.3,702.1 L617.4,701.5 L617.5,700.8 L617.6,700.6 L617.6,699.8 L617.7,698.5 L617.8,697.6 L617.9,698.0 L617.9,698.1 L618.0,697.8 L618.1,697.6 L618.2,696.3 L618.2,695.4 L618.3,694.2 L618.4,694.4 L618.5,695.2 L618.6,693.2 L618.7,691.3 L618.7,691.0 L618.8,689.9 L618.9,688.7 L619.0,689.4 L619.1,689.2 L619.2,687.9 L619.3,687.8 L619.4,686.8 L619.5,685.8 L619.6,685.5 L619.7,684.2 L619.8,684.1 L619.9,683.4 L620.0,683.5 L620.1,683.1 L620.2,682.5 L620.4,681.6 L620.5,680.2 L620.6,679.5 L620.7,677.8 L620.9,677.9 L621.0,678.4 L621.3,677.0 L621.8,677.4 L622.0,678.3 L622.1,678.4 L622.3,679.6 L622.4,680.5 L622.5,680.0 L622.6,681.2 L622.7,683.1 L622.7,682.7 L622.8,682.5 L622.9,682.4 L623.0,682.9 L623.1,684.7 L623.2,685.9 L623.2,685.7 L623.3,686.2 L623.4,688.3 L623.5,689.0 L623.5,688.5 L623.6,690.1 L623.7,691.3 L623.8,691.2 L623.8,691.3 L623.9,691.1 L623.9,691.5 L624.0,692.7 L624.1,693.8 L624.1,694.9 L624.2,696.0 L624.2,696.6 L624.3,697.0 L624.3,697.0 L624.4,696.4 L624.4,697.3 L624.4,698.6 L624.5,699.2 L624.5,700.2 L624.6,700.5 L624.6,700.7 L624.7,702.0 L624.7,703.3 L624.7,703.6 L624.8,704.5 L624.8,705.4 L624.9,705.2 L624.9,706.0 L624.9,708.2 L625.0,708.5 L625.0,708.7 L625.1,710.5 L625.1,711.3 L625.1,710.8 L625.2,711.7 L625.2,712.9 L625.3,712.3 L625.3,712.8 L625.3,713.9 L625.4,714.7 L625.4,714.9 L625.5,716.2 L625.5,716.6 L625.5,716.0 L625.6,717.4 L625.6,719.0 L625.7,719.8 L625.7,719.5 L625.7,720.2 L625.8,721.6 L625.8,722.6 L625.9,722.4 L625.9,722.2 L626.0,723.4 L626.0,723.0 L626.1,723.5 L626.1,725.6 L626.2,726.3 L626.2,726.0 L626.3,727.4 L626.3,728.9 L626.3,729.6 L626.4,729.3 L626.4,729.4 L626.5,731.0 L626.5,731.4 L626.6,731.1 L626.6,732.5 L626.7,734.4 L626.7,734.0 L626.8,732.4 L626.8,732.9 L626.9,734.4 L626.9,735.7 L627.0,737.3 L627.0,737.9 L627.1,737.9 L627.1,738.7 L627.2,739.2 L627.2,739.7 L627.3,740.5 L627.3,742.6 L627.4,744.1 L627.4,742.8 L627.5,742.5 L627.5,743.4 L627.6,743.7 L627.6,744.2 L627.7,745.3 L627.7,746.8 L627.8,747.6 L627.8,747.4 L627.9,747.5 L627.9,748.0 L628.0,749.3 L628.0,750.5 L628.1,751.8 L628.2,752.2 L628.2,752.8 L628.3,753.9 L628.4,754.0 L628.4,753.4 L628.5,753.4 L628.6,755.5 L628.6,757.6 L628.7,757.9 L628.8,758.2 L628.8,758.6 L628.9,758.6 L629.0,759.1 L629.0,760.5 L629.1,761.7 L629.2,761.7 L629.2,762.0 L629.3,763.0 L629.4,764.0 L629.5,763.9 L629.5,765.3 L629.6,766.5 L629.7,766.3 L629.8,767.6 L629.9,768.8 L629.9,768.6 L630.0,768.9 L630.1,769.1 L630.2,769.1 L630.3,769.1 L630.4,770.7 L630.5,771.6 L630.5,771.9 L630.6,773.1 L630.7,772.9 L630.8,773.9 L631.0,775.2 L631.1,776.3 L631.2,777.7 L631.3,778.2 L631.4,778.4 L631.6,778.5 L631.7,779.0 L631.8,780.1 L631.9,780.1 L632.1,780.6 L632.2,781.4 L632.4,782.2 L632.5,783.1 L632.7,783.4 L632.8,783.4 L633.0,784.7 L633.2,784.8 L633.4,784.7 L633.6,787.0 L633.8,786.5 L634.1,785.9 L634.3,788.3 L634.6,788.4 L635.0,790.0 L635.3,790.0 L635.7,789.9 L636.1,792.6 L636.5,792.9 L637.0,792.4 L637.4,792.6 L637.8,792.7 L638.2,793.5 L638.6,793.9 L638.9,793.7 L639.2,795.7 L639.5,795.7 L639.7,795.4 L639.9,796.9 L640.1,796.8 L640.3,798.1 L640.4,800.0 L640.6,798.7 L640.7,799.0 L640.9,800.2 L641.0,800.4 L641.2,801.6 L641.3,802.2 L641.5,803.5 L641.6,804.2 L641.7,804.8 L641.9,806.0 L642.0,806.5 L642.2,806.7 L642.3,806.3 L642.5,806.4 L642.6,807.9 L642.8,810.2 L643.0,812.1 L643.1,813.1 L643.3,812.2 L643.4,811.6 L643.6,812.3 L643.7,813.1 L643.9,814.7 L644.0,816.1 L644.2,814.8 L644.3,814.0 L644.5,816.6 L644.6,818.1 L644.8,817.3 L644.9,818.7 L645.1,819.2 L645.3,818.5 L645.4,819.1 L645.6,818.1 L645.8,820.0 L645.9,821.3 L646.1,820.6 L646.3,821.6 L646.5,823.5 L646.7,824.8 L646.9,824.7 L647.0,823.7 L647.2,824.2 L647.4,825.1 L647.6,826.1 L647.8,828.6 L648.0,828.8 L648.2,831.2 L648.4,832.4 L648.6,831.5 L648.8,831.8 L649.0,831.5 L649.2,833.0 L649.4,835.1 L649.6,833.2 L649.8,833.8 L650.1,836.4 L650.3,836.9 L650.5,837.4 L650.8,835.6 L651.1,834.2 L651.3,838.5 L651.6,840.4 L651.9,837.5 L652.3,838.1 L652.6,840.1 L653.0,837.7 L653.4,836.3 L653.8,836.7 L654.2,840.8 L654.6,842.3 L655.0,842.8 L655.5,843.1 L655.9,845.1 L656.4,842.3 L656.8,842.4 L657.3,843.6 L657.8,844.2 L658.2,843.9 L658.7,846.3 L659.1,846.1 L659.5,846.2 L659.9,845.3 L660.3,851.3 L660.7,849.5 L661.1,847.7 L661.5,847.7 L661.9,852.5 L662.2,851.7 L662.6,852.6 L662.9,851.2 L663.3,854.4 L663.6,850.5 L664.0,852.9 L664.3,851.9 L664.7,856.6 L665.0,855.3 L665.4,857.4 L665.7,856.3 L666.1,859.4 L666.4,857.9 L666.8,859.2 L667.2,854.2 L667.5,859.6 L667.9,858.4 L668.3,860.2 L668.7,859.2 L669.1,862.3 L669.6,860.2 L670.0,865.0 L670.4,860.9 L670.9,862.4 L671.3,865.7 L671.8,868.5 L672.2,863.3 L672.7,866.9 L673.1,867.1 L673.6,867.8 L674.0,864.0 L674.5,868.7 L675.0,867.2 L675.4,870.4 L675.9,867.8 L676.4,871.1 L676.9,867.4 L677.4,870.1 L677.8,867.4 L678.3,870.9 L678.8,869.4 L679.3,870.7 L679.7,870.8 L680.2,875.2 L680.7,870.0 L681.2,874.6 L681.6,872.8 L682.1,875.6 L682.6,874.4 L683.1,876.4 L683.6,874.8 L684.0,876.6 L684.5,874.5 L685.0,880.3 L685.5,875.4 L686.0,877.9 L686.5,877.6 L687.0,878.8 L687.5,874.8 L688.0,882.0 L688.5,880.2 L689.0,883.1 L689.6,882.2 L690.1,882.7 L690.6,881.0 L691.1,884.2 L691.7,883.0 L692.2,886.0 L692.8,881.8 L693.3,885.7 L693.9,884.1 L694.4,887.2 L695.0,882.8 L695.5,884.3 L696.1,883.1 L696.6,886.5 L697.2,881.9 L697.7,886.2 L698.3,882.6 L698.9,887.4 L699.5,886.9 L700.0,889.1 L700.6,888.6 L701.2,891.0 L701.8,890.2 L702.4,894.5 L702.9,889.2 L703.5,890.1 L704.1,883.9 L704.7,887.7 L705.2,887.8 L705.8,894.2 L706.4,890.1 L707.0,892.7 L707.5,892.0 L708.1,894.2 L708.7,887.9 L709.3,889.7 L709.9,890.6 L710.6,893.5 L711.2,892.5 L711.8,893.1 L712.5,891.2 L713.1,895.7 L713.8,892.6 L714.4,895.5 L715.1,894.2 L715.7,895.4 L716.3,889.0 L716.9,890.2 L717.5,890.1 L718.1,895.9 L718.7,891.1 L719.3,891.4 L719.8,889.3 L720.4,891.2 L721.0,888.1 L721.5,889.8 L722.0,889.6 L722.6,892.3 L723.1,887.3 L723.6,886.8 L724.2,884.5 L724.7,888.6 L725.2,887.4 L725.7,888.9 L726.2,884.6 L726.7,886.7 L727.2,882.4 L727.7,887.0 L728.1,884.4 L728.5,887.9 L728.9,883.1 L729.4,882.9 L729.8,881.2 L730.2,882.9 L730.6,876.7 L730.9,879.1 L731.3,876.9 L731.7,880.7 L732.1,877.5 L732.4,881.0 L732.8,879.4 L733.2,880.5 L733.5,875.5 L733.9,878.0 L734.2,874.6 L734.6,879.0 L734.9,875.1 L735.3,875.5 L735.6,872.8 L736.0,872.7 L736.3,868.6 L736.6,873.0 L736.9,872.3 L737.3,874.3 L737.6,871.1 L737.9,871.8 L738.2,870.6 L738.5,872.3 L738.8,867.5 L739.1,867.0 L739.3,866.2 L739.6,866.1 L739.9,864.2 L740.2,868.2 L740.4,864.3 L740.7,866.5 L741.0,864.9 L741.2,862.5 L741.5,860.8 L741.7,860.6 L742.0,860.1 L742.2,861.3 L742.5,861.5 L742.7,862.6 L742.9,859.5 L743.2,858.5 L743.4,854.9 L743.6,855.1 L743.9,854.5 L744.1,855.7 L744.3,855.6 L744.5,856.1 L744.7,855.8 L744.9,854.8 L745.1,853.2 L745.3,852.3 L745.5,851.7 L745.7,852.1 L745.9,849.9 L746.1,849.1 L746.3,851.3 L746.5,850.3 L746.7,846.9 L746.9,845.9 L747.0,844.3 L747.2,845.3 L747.4,845.8 L747.5,844.5 L747.7,845.1 L747.9,846.0 L748.0,843.4 L748.2,841.8 L748.3,842.2 L748.5,841.1 L748.6,840.4 L748.8,839.5 L748.9,839.6 L749.1,839.4 L749.2,837.9 L749.4,837.7 L749.5,837.5 L749.6,836.3 L749.7,835.3 L749.9,835.5 L750.0,835.0 L750.1,833.1 L750.2,831.5 L750.3,830.7 L750.4,829.9 L750.5,829.6 L750.6,829.8 L750.7,827.7 L750.8,826.9 L750.9,828.1 L751.0,827.6 L751.1,825.8 L751.2,825.9 L751.3,825.5 L751.4,823.1 L751.5,822.2 L751.6,822.4 L751.7,823.2 L751.8,823.4 L751.8,822.2 L751.9,819.9 L752.0,818.7 L752.1,818.2 L752.2,817.9 L752.3,816.6 L752.4,816.2 L752.4,817.2 L752.5,816.4 L752.6,815.6 L752.7,814.4 L752.8,812.5 L752.9,812.0 L752.9,813.2 L753.0,813.7 L753.1,812.0 L753.2,811.4 L753.3,810.9 L753.3,810.4 L753.4,810.4 L753.5,808.3 L753.6,807.9 L753.7,807.1 L753.8,805.2 L753.8,804.1 L753.9,804.3 L754.0,804.6 L754.1,803.7 L754.2,802.8 L754.2,803.2 L754.3,802.6 L754.4,800.4 L754.5,801.0 L754.6,801.8 L754.7,800.5 L754.7,797.7 L754.8,796.4 L754.9,797.4 L755.0,797.2 L755.0,797.2 L755.1,795.6 L755.2,794.3 L755.3,794.2 L755.4,794.0 L755.4,793.7 L755.5,792.9 L755.6,791.8 L755.7,789.5 L755.7,788.5 L755.8,788.4 L755.9,787.8 L755.9,788.4 L756.0,789.4 L756.1,788.2 L756.2,785.9 L756.2,784.9 L756.3,784.5 L756.4,785.0 L756.5,785.0 L756.5,783.7 L756.6,782.6 L756.7,780.2 L756.8,779.3 L756.8,779.3 L756.9,779.4 L757.0,779.6 L757.0,778.1 L757.1,777.2 L757.2,778.2 L757.3,777.1 L757.3,774.8 L757.4,774.6 L757.5,774.1 L757.5,773.3 L757.6,773.5 L757.7,774.4 L757.8,772.1 L757.8,770.3 L757.9,770.9 L758.0,770.2 L758.0,769.4 L758.1,768.6 L758.2,768.8 L758.2,768.0 L758.3,766.6 L758.4,766.3 L758.4,765.8 L758.5,765.0 L758.6,765.0 L758.6,764.5 L758.7,763.2 L758.8,762.6 L758.8,761.1 L758.9,759.9 L759.0,759.2 L759.0,759.3 L759.1,758.9 L759.2,757.4 L759.2,757.4 L759.3,757.8 L759.4,755.8 L759.4,756.0 L759.5,756.6 L759.5,754.7 L759.6,754.7 L759.7,754.2 L759.7,752.4 L759.8,753.2 L759.9,752.3 L760.0,750.0 L760.0,750.7 L760.1,749.4 L760.2,748.1 L760.2,748.5 L760.3,749.5 L760.4,748.0 L760.5,745.7 L760.6,746.1 L760.6,745.5 L760.7,743.6 L760.8,743.2 L760.9,743.5 L761.0,742.8 L761.1,742.9 L761.2,742.7 L761.3,741.5 L761.3,740.4 L761.4,738.7 L761.5,737.7 L761.6,738.0 L761.7,737.2 L761.8,736.4 L761.9,735.5 L761.9,735.9 L762.0,737.3 L762.1,735.3 L762.2,733.4 L762.3,732.9 L762.4,732.9 L762.5,732.7 L762.6,731.2 L762.7,730.1 L762.9,729.5 L763.0,728.4 L763.2,728.1 L763.4,727.7 L764.0,727.4 L764.5,728.4 L764.9,729.3 L765.2,729.8 L765.5,730.3 L765.8,730.3 L766.0,730.6 L766.3,731.7 L766.5,732.0 L766.7,732.8 L766.9,734.0 L767.1,733.1 L767.2,733.3 L767.3,734.3 L767.4,735.6 L767.5,735.9 L767.7,735.0 L767.8,735.9 L767.9,738.3 L767.9,739.2 L768.0,738.8 L768.1,740.0 L768.2,739.3 L768.3,740.1 L768.4,742.5 L768.5,743.2 L768.6,744.0 L768.6,744.6 L768.7,744.6 L768.8,745.2 L768.9,746.1 L769.0,748.3 L769.0,749.0 L769.1,748.4 L769.2,748.4 L769.3,748.4 L769.4,750.5 L769.4,750.9 L769.5,749.8 L769.6,751.2 L769.7,752.2 L769.8,754.2 L769.9,753.5 L769.9,753.1 L770.0,755.9 L770.1,755.5 L770.2,755.2 L770.2,756.9 L770.3,759.1 L770.4,758.8 L770.4,757.3 L770.5,759.2 L770.6,762.0 L770.6,761.8 L770.7,759.8 L770.8,761.7 L770.8,763.7 L770.9,764.2 L771.0,764.9 L771.0,764.5 L771.1,764.9 L771.1,766.8 L771.2,768.8 L771.3,766.9 L771.3,765.9 L771.4,769.3 L771.4,770.3 L771.5,768.8 L771.6,769.7 L771.6,771.2 L771.7,771.8 L771.7,772.2 L771.8,772.7 L771.9,773.4 L771.9,774.4 L772.0,774.8 L772.1,775.1 L772.1,776.2 L772.2,777.9 L772.2,778.9 L772.3,778.6 L772.4,779.4 L772.4,780.4 L772.5,781.4 L772.5,782.1 L772.6,783.2 L772.7,784.5 L772.7,783.8 L772.8,783.3 L772.9,784.6 L772.9,785.9 L773.0,785.8 L773.1,785.1 L773.1,784.5 L773.2,786.4 L773.3,788.9 L773.3,789.9 L773.4,789.1 L773.5,789.9 L773.5,791.0 L773.6,791.2 L773.7,792.5 L773.7,792.4 L773.8,792.3 L773.9,792.1 L774.0,792.5 L774.0,793.3 L774.1,794.9 L774.2,796.9 L774.2,797.8 L774.3,798.7 L774.4,798.3 L774.5,798.9 L774.5,799.7 L774.6,800.5 L774.7,801.7 L774.7,801.2 L774.8,801.6 L774.9,803.0 L775.0,803.4 L775.0,804.7 L775.1,806.7 L775.2,806.5 L775.3,805.7 L775.3,805.0 L775.4,805.8 L775.5,807.7 L775.6,807.0 L775.6,808.1 L775.7,810.7 L775.8,810.6 L775.9,810.6 L775.9,811.1 L776.0,812.5 L776.1,812.8 L776.2,812.7 L776.3,815.7 L776.3,816.6 L776.4,816.2 L776.5,816.8 L776.6,816.3 L776.7,817.0 L776.7,818.7 L776.8,818.7 L776.9,819.3 L777.0,821.5 L777.1,822.6 L777.2,821.3 L777.3,820.6 L777.4,821.2 L777.5,823.2 L777.5,825.4 L777.6,825.8 L777.7,825.4 L777.8,824.8 L777.9,826.1 L778.0,827.6 L778.1,827.6 L778.2,828.3 L778.3,830.0 L778.4,830.7 L778.5,830.1 L778.6,829.1 L778.7,830.3 L778.8,832.6 L778.9,833.2 L779.0,833.4 L779.1,833.8 L779.2,835.2 L779.3,836.3 L779.4,836.5 L779.5,836.5 L779.6,836.7 L779.7,838.1 L779.8,838.5 L779.9,838.1 L780.0,839.2 L780.1,841.6 L780.2,842.6 L780.3,843.4 L780.4,843.8 L780.5,843.2 L780.6,843.0 L780.7,843.5 L780.8,846.1 L780.9,847.3 L781.0,847.5 L781.1,848.4 L781.2,848.5 L781.4,848.5 L781.5,849.2 L781.6,850.5 L781.7,851.4 L781.8,851.9 L781.9,852.3 L782.0,852.1 L782.1,852.4 L782.2,853.0 L782.3,854.5 L782.4,854.3 L782.5,854.1 L782.6,857.9 L782.7,858.4 L782.9,856.6 L783.0,857.5 L783.1,859.8 L783.2,860.3 L783.3,860.5 L783.4,861.3 L783.5,861.3 L783.6,864.1 L783.7,865.0 L783.8,863.1 L783.9,863.3 L784.0,864.6 L784.1,865.9 L784.3,866.8 L784.4,867.2 L784.5,866.4 L784.6,867.3 L784.7,868.7 L784.8,868.8 L785.0,868.6 L785.1,869.0 L785.2,870.2 L785.3,871.2 L785.5,871.3 L785.6,872.0 L785.7,873.8 L785.9,873.6 L786.0,873.7 L786.1,874.5 L786.3,876.2 L786.4,875.7 L786.6,875.4 L786.8,876.7 L786.9,877.2 L787.1,879.6 L787.3,880.1 L787.4,880.2 L787.6,880.7 L787.8,882.6 L788.0,884.4 L788.1,884.6 L788.3,883.5 L788.5,882.4 L788.7,884.9 L788.9,886.4 L789.1,885.8 L789.3,886.9 L789.5,886.5 L789.7,887.5 L789.9,889.5 L790.2,889.8 L790.4,889.6 L790.7,890.2 L791.0,890.7 L791.3,891.9 L791.6,895.4 L792.0,896.0 L792.3,895.7 L792.7,895.9 L793.0,890.5 L793.4,891.2 L793.8,896.8 L794.1,895.4 L794.5,896.9 L794.9,892.5 L795.3,894.8 L795.8,897.3 L796.2,905.3 L796.7,899.3 L797.2,898.0 L797.7,899.2 L798.2,904.2 L798.7,899.4 L799.3,908.6 L799.9,895.9 L800.5,904.0 L801.1,902.0 L801.7,906.1 L802.3,897.9 L803.0,910.7 L803.6,901.0 L804.2,907.7 L804.9,896.0 L805.5,902.7 L806.1,901.8 L806.8,910.2 L807.4,906.8 L808.0,911.5 L808.6,898.7 L809.2,904.7 L809.8,898.1 L810.3,904.3 L810.7,899.1 L811.2,905.2 L811.6,897.9 L812.0,911.1 L812.3,909.1 L812.7,921.1 L813.0,904.1 L813.3,912.5 L813.7,905.9 L814.0,908.0 L814.3,903.3 L814.5,914.4 L814.8,911.2 L815.1,919.0 L815.3,908.1 L815.6,919.0 L815.9,914.4 L816.1,919.4 L816.4,910.5 L816.6,916.3 L816.8,914.2 L817.0,924.5 L817.1,911.1 L817.3,920.2 L817.5,914.6 L817.6,923.4 L817.7,917.6 L817.9,923.8 L818.0,920.3 L818.1,927.7 L818.3,923.4 L818.4,927.5 L818.5,921.0 L818.7,924.3 L818.8,920.4 L818.9,932.3 L819.0,927.8 L819.1,934.7 L819.3,928.5" fill="none" stroke="#00807f" stroke-width="3.2" stroke-linejoin="round" stroke-linecap="butt"/>
<path d="M97.5,448.0 L98.3,445.1 L99.1,446.3 L99.8,446.3 L100.6,447.0 L101.4,443.2 L102.2,446.6 L103.0,444.5 L103.8,444.2 L104.6,443.8 L105.3,443.6 L106.1,443.5 L106.9,440.9 L107.7,444.2 L108.5,443.5 L109.3,442.2 L110.1,443.1 L110.9,445.9 L111.6,443.4 L112.4,442.3 L113.2,444.8 L114.0,441.6 L114.8,442.2 L115.6,441.6 L116.4,441.9 L117.2,443.0 L118.0,442.7 L118.8,441.0 L119.6,441.6 L120.4,441.8 L121.1,441.1 L121.9,441.5 L122.7,440.6 L123.5,440.5 L124.3,441.4 L125.1,440.0 L125.9,441.7 L126.7,440.8 L127.5,439.8 L128.3,440.1 L129.1,440.2 L129.9,440.5 L130.7,440.7 L131.5,440.1 L132.3,439.2 L133.0,441.8 L133.8,440.9 L134.6,439.7 L135.3,440.5 L136.1,439.5 L136.8,438.5 L137.6,438.6 L138.3,441.4 L139.0,439.1 L139.8,438.8 L140.5,436.8 L141.3,437.7 L142.0,439.4 L142.7,436.8 L143.5,437.3 L144.2,437.2 L145.0,436.2 L145.7,437.1 L146.5,435.2 L147.2,435.2 L148.0,433.6 L148.8,437.4 L149.5,434.3 L150.3,433.8 L151.0,435.1 L151.8,432.6 L152.5,432.9 L153.3,431.6 L154.0,432.2 L154.7,431.4 L155.4,432.1 L156.1,430.9 L156.7,429.7 L157.2,429.5 L157.6,429.1 L158.1,427.9 L158.5,429.0 L158.9,428.0 L159.3,426.6 L159.7,424.3 L160.1,425.7 L160.4,422.8 L160.8,423.9 L161.3,423.0 L161.7,421.6 L162.1,420.6 L162.6,420.2 L163.2,422.9 L163.7,419.5 L164.2,419.0 L164.7,419.8 L165.3,418.5 L165.9,418.8 L166.5,415.5 L167.3,415.4 L168.0,420.7 L168.8,416.8 L169.6,416.8 L170.3,417.7 L171.0,419.1 L171.7,416.8 L172.5,418.8 L173.2,418.6 L174.0,419.6 L174.8,419.1 L175.6,418.4 L176.4,418.1 L177.2,416.3 L178.0,420.5 L178.8,417.6 L179.6,418.7 L180.1,420.6 L180.5,417.4 L180.9,418.0 L181.2,416.2 L181.5,416.6 L181.8,415.0 L182.0,413.6 L182.3,415.1 L182.6,412.4 L182.9,410.4 L183.1,410.9 L183.5,411.2 L183.8,408.4 L184.2,410.0 L184.7,409.4 L185.4,410.6 L186.1,406.9 L186.8,408.2 L187.6,405.1 L188.4,406.4 L189.1,406.7 L189.9,406.8 L190.6,405.9 L191.3,405.5 L191.9,404.3 L192.4,403.9 L192.9,404.2 L193.3,403.8 L193.7,403.2 L194.0,402.9 L194.4,402.4 L194.7,398.1 L195.0,398.9 L195.3,398.6 L195.6,397.3 L195.9,398.5 L196.2,397.4 L196.5,395.7 L196.7,395.2 L197.0,395.8 L197.3,393.1 L197.6,392.4 L197.9,393.1 L198.2,391.9 L198.5,392.3 L198.7,390.3 L199.0,390.0 L199.3,387.7 L199.5,386.4 L199.8,386.8 L200.0,382.8 L200.2,385.7 L200.5,385.6 L200.7,383.8 L200.9,382.7 L201.1,383.5 L201.3,381.4 L201.6,381.8 L201.8,382.5 L202.0,380.0 L202.2,379.5 L202.5,378.2 L202.7,377.1 L202.9,376.4 L203.2,375.4 L203.4,375.8 L203.7,371.8 L203.9,372.7 L204.2,373.0 L204.5,370.5 L204.8,370.6 L205.2,369.2 L205.6,369.9 L206.0,369.7 L206.4,369.7 L206.9,367.9 L207.3,365.8 L207.8,366.3 L208.3,366.1 L208.8,366.5 L209.4,361.7 L209.9,364.1 L210.6,361.0 L211.3,363.6 L212.0,363.0 L212.7,362.7 L213.5,363.0 L214.3,362.2 L215.0,360.7 L215.8,361.7 L216.5,362.3 L217.2,360.3 L217.8,360.0 L218.2,357.8 L218.4,359.9 L218.6,357.1 L218.8,356.0 L219.0,355.6 L219.2,354.3 L219.3,354.3 L219.5,355.3 L219.7,354.0 L219.8,353.9 L220.0,353.2 L220.1,349.6 L220.3,350.4 L220.5,350.9 L220.6,351.0 L220.8,345.8 L220.9,345.0 L221.1,346.5 L221.2,344.8 L221.3,343.2 L221.5,344.0 L221.6,341.9 L221.7,339.3 L221.9,341.2 L222.0,340.6 L222.1,340.4 L222.2,340.0 L222.4,338.3 L222.5,337.0 L222.6,335.7 L222.7,333.7 L222.8,334.4 L222.9,335.3 L223.1,334.1 L223.2,335.0 L223.3,331.5 L223.4,328.8 L223.5,331.1 L223.6,330.6 L223.7,327.2 L223.9,325.8 L224.0,327.1 L224.1,327.0 L224.2,324.0 L224.3,324.2 L224.4,322.9 L224.6,321.6 L224.7,320.6 L224.8,321.6 L224.9,320.2 L225.0,319.0 L225.2,315.9 L225.3,320.3 L225.4,316.3 L225.5,316.5 L225.7,314.5 L225.8,315.6 L226.0,312.5 L226.1,313.6 L226.3,312.5 L226.4,313.1 L226.6,309.9 L226.7,309.6 L226.9,309.3 L227.1,311.3 L227.3,306.3 L227.5,307.6 L227.7,305.7 L228.0,306.1 L228.2,305.8 L228.4,304.4 L228.6,303.7 L228.8,303.0 L229.0,301.2 L229.2,300.9 L229.5,298.4 L229.7,299.2 L230.0,297.9 L230.3,297.8 L230.6,298.2 L231.0,297.1 L231.4,296.6 L232.1,297.0 L232.9,293.2 L233.5,297.1 L234.0,297.1 L234.4,297.7 L234.8,297.0 L235.2,299.9 L235.6,301.3 L236.0,301.9 L236.3,301.3 L236.6,302.8 L237.0,303.9 L237.3,305.7 L237.5,305.8 L237.7,305.3 L237.9,306.0 L238.0,306.9 L238.2,307.7 L238.3,307.6 L238.5,309.9 L238.6,309.0 L238.8,309.6 L238.9,311.8 L239.1,311.5 L239.2,312.7 L239.4,311.3 L239.5,315.5 L239.7,315.3 L239.8,315.9 L240.0,317.4 L240.2,317.9 L240.3,317.6 L240.5,321.6 L240.8,319.4 L241.1,321.9 L241.7,323.4 L242.2,319.9 L242.5,320.0 L242.8,318.2 L243.0,319.6 L243.2,317.2 L243.4,315.5 L243.6,317.6 L243.8,316.4 L244.0,313.4 L244.1,315.1 L244.3,313.2 L244.5,315.4 L244.7,313.4 L244.9,309.9 L245.0,309.5 L245.2,308.0 L245.4,308.4 L245.6,307.5 L245.7,307.6 L245.9,306.0 L246.0,303.4 L246.2,303.4 L246.3,305.2 L246.4,304.1 L246.6,301.8 L246.7,301.0 L246.8,300.2 L247.0,299.6 L247.1,296.8 L247.2,299.1 L247.4,296.4 L247.5,296.6 L247.6,292.6 L247.8,295.1 L247.9,295.7 L248.0,290.6 L248.2,294.3 L248.3,292.3 L248.4,290.0 L248.6,288.2 L248.7,290.7 L248.8,288.9 L249.0,288.5 L249.1,286.7 L249.3,285.2 L249.4,286.5 L249.6,283.5 L249.7,284.9 L249.9,281.1 L250.1,281.2 L250.2,279.8 L250.4,282.3 L250.5,277.8 L250.7,277.8 L250.9,279.1 L251.0,277.8 L251.2,279.4 L251.3,278.2 L251.5,276.0 L251.7,275.3 L251.8,271.5 L252.0,271.8 L252.2,271.7 L252.3,271.1 L252.5,268.9 L252.7,268.6 L252.8,268.0 L253.0,269.5 L253.2,267.9 L253.4,266.2 L253.6,265.5 L253.8,265.4 L253.9,263.5 L254.1,263.2 L254.3,260.7 L254.5,262.8 L254.8,262.3 L255.0,260.9 L255.1,260.2 L255.3,259.3 L255.5,260.5 L255.7,257.6 L255.9,254.9 L256.1,254.5 L256.3,255.8 L256.5,255.5 L256.7,254.4 L256.9,253.7 L257.2,252.1 L257.6,249.5 L258.3,250.3 L258.9,249.5 L259.2,251.9 L259.6,251.5 L259.9,254.0 L260.1,254.4 L260.4,253.0 L260.6,257.0 L260.8,257.8 L261.1,256.0 L261.3,258.6 L261.5,260.1 L261.7,259.6 L261.9,261.8 L262.2,261.7 L262.4,263.6 L262.6,263.3 L262.9,263.6 L263.2,265.2 L263.4,266.2 L263.7,266.4 L264.0,266.3 L264.3,266.6 L264.6,267.9 L264.8,268.4 L265.1,270.0 L265.4,270.7 L265.7,271.2 L265.9,272.0 L266.2,273.0 L266.5,275.4 L266.7,275.8 L267.0,274.4 L267.2,276.4 L267.4,276.2 L267.6,277.3 L267.9,277.9 L268.1,278.2 L268.3,278.1 L268.5,277.5 L268.7,281.5 L268.8,283.5 L268.9,281.7 L269.1,284.2 L269.2,283.9 L269.3,285.5 L269.4,285.0 L269.5,286.5 L269.6,287.4 L269.8,285.5 L269.9,289.4 L270.0,289.8 L270.1,287.7 L270.2,292.3 L270.4,292.3 L270.5,293.3 L270.7,294.3 L270.9,294.2 L271.1,294.1 L271.7,295.5 L272.3,296.0 L272.9,299.7 L273.7,299.5 L274.5,296.6 L275.1,296.2 L275.7,296.6 L276.2,296.3 L276.7,294.1 L277.1,293.0 L277.4,295.8 L277.7,294.0 L277.9,290.1 L278.1,289.1 L278.3,289.4 L278.5,289.9 L278.7,289.6 L278.9,287.7 L279.1,285.4 L279.2,286.8 L279.4,286.5 L279.6,285.0 L279.7,283.6 L279.9,284.1 L280.0,282.6 L280.2,280.5 L280.4,281.2 L280.5,278.7 L280.7,280.7 L280.8,279.3 L281.0,276.7 L281.1,277.4 L281.3,277.9 L281.5,273.0 L281.6,274.6 L281.8,276.0 L282.0,271.3 L282.2,272.2 L282.4,269.9 L282.6,270.8 L282.8,267.2 L282.9,267.4 L283.1,267.9 L283.3,268.0 L283.5,267.5 L283.7,266.8 L283.9,266.9 L284.1,265.5 L284.3,264.8 L284.5,261.9 L284.7,262.2 L284.9,265.5 L285.1,263.6 L285.3,261.0 L285.5,260.2 L285.7,259.7 L285.9,257.2 L286.1,259.3 L286.3,255.7 L286.5,255.3 L286.7,257.3 L286.9,251.3 L287.1,253.5 L287.3,250.2 L287.4,250.7 L287.6,250.6 L287.8,249.5 L288.0,249.4 L288.2,247.5 L288.4,247.5 L288.6,245.4 L288.8,245.6 L289.0,243.6 L289.2,245.3 L289.4,242.1 L289.5,243.8 L289.7,241.7 L289.9,241.0 L290.1,242.1 L290.3,240.0 L290.5,236.7 L290.6,238.9 L290.8,233.9 L291.0,237.0 L291.1,235.4 L291.3,233.4 L291.4,234.5 L291.6,233.2 L291.8,235.3 L291.9,231.5 L292.0,233.6 L292.2,232.1 L292.3,228.9 L292.5,227.8 L292.6,229.7 L292.8,227.1 L292.9,226.7 L293.1,225.4 L293.2,223.4 L293.4,223.7 L293.5,222.2 L293.7,220.7 L293.8,221.4 L294.0,223.2 L294.2,222.2 L294.4,219.4 L294.6,218.8 L294.8,218.5 L295.0,218.8 L295.2,216.8 L295.5,215.0 L295.8,214.4 L296.2,215.6 L296.6,216.7 L297.0,212.0 L297.5,209.6 L298.1,212.6 L298.8,211.3 L299.3,212.2 L299.6,214.3 L299.9,213.6 L300.1,212.6 L300.3,212.6 L300.5,215.7 L300.6,215.1 L300.8,217.7 L301.0,216.6 L301.1,218.5 L301.3,217.9 L301.5,220.0 L301.6,220.7 L301.7,222.8 L301.8,224.5 L302.0,223.4 L302.1,223.4 L302.2,227.7 L302.2,226.5 L302.3,227.6 L302.4,228.4 L302.5,230.2 L302.6,230.5 L302.7,230.9 L302.7,231.8 L302.8,230.5 L302.9,231.7 L303.0,233.1 L303.0,234.1 L303.1,234.8 L303.2,236.0 L303.2,236.4 L303.3,236.7 L303.4,236.0 L303.4,239.8 L303.5,240.3 L303.6,239.3 L303.6,241.8 L303.7,242.5 L303.8,242.9 L303.8,241.3 L303.9,242.9 L303.9,244.4 L304.0,248.0 L304.1,245.7 L304.1,247.1 L304.2,247.0 L304.3,248.5 L304.3,250.4 L304.4,248.2 L304.5,248.0 L304.5,253.2 L304.6,253.2 L304.6,253.2 L304.7,255.9 L304.8,256.7 L304.8,253.7 L304.9,256.9 L305.0,259.3 L305.0,257.9 L305.1,259.1 L305.2,261.5 L305.2,260.8 L305.3,260.4 L305.4,261.9 L305.4,261.9 L305.5,265.0 L305.6,262.9 L305.7,267.1 L305.7,264.6 L305.8,267.5 L305.9,266.5 L306.0,268.7 L306.0,271.2 L306.1,272.1 L306.2,273.1 L306.3,272.2 L306.3,273.2 L306.4,274.2 L306.5,275.4 L306.6,275.0 L306.6,277.6 L306.7,277.5 L306.8,279.3 L306.8,279.2 L306.9,280.3 L307.0,279.3 L307.1,280.5 L307.1,280.2 L307.2,282.3 L307.3,283.2 L307.4,285.3 L307.4,283.4 L307.5,289.9 L307.6,286.5 L307.7,289.0 L307.7,289.5 L307.8,285.8 L307.9,289.5 L307.9,292.4 L308.0,288.4 L308.1,293.1 L308.2,291.8 L308.2,293.2 L308.3,294.9 L308.4,293.0 L308.4,296.4 L308.5,296.2 L308.6,296.8 L308.7,299.4 L308.7,303.7 L308.8,300.6 L308.9,301.6 L308.9,301.7 L309.0,301.6 L309.1,303.7 L309.1,306.0 L309.2,305.2 L309.3,306.8 L309.3,306.2 L309.4,310.5 L309.5,306.1 L309.5,309.6 L309.6,310.4 L309.7,310.8 L309.7,309.9 L309.8,310.7 L309.9,312.6 L309.9,313.8 L310.0,313.0 L310.1,314.0 L310.1,316.8 L310.2,318.2 L310.2,317.0 L310.3,317.6 L310.4,318.4 L310.4,323.2 L310.5,321.5 L310.5,321.6 L310.6,323.7 L310.7,326.1 L310.7,325.5 L310.8,323.1 L310.8,325.6 L310.9,326.0 L311.0,326.8 L311.0,326.5 L311.1,328.4 L311.1,328.3 L311.2,330.9 L311.2,331.3 L311.3,330.3 L311.3,330.7 L311.4,333.0 L311.5,335.2 L311.5,335.9 L311.6,335.9 L311.6,332.7 L311.7,337.0 L311.7,337.5 L311.8,338.8 L311.9,338.5 L311.9,340.3 L312.0,340.8 L312.0,345.8 L312.1,344.1 L312.1,343.8 L312.2,344.7 L312.3,345.5 L312.3,346.6 L312.4,346.7 L312.4,348.0 L312.5,350.1 L312.5,350.6 L312.6,350.8 L312.7,352.9 L312.7,352.3 L312.8,351.6 L312.8,351.4 L312.9,353.5 L313.0,355.1 L313.0,356.5 L313.1,358.1 L313.1,356.9 L313.2,357.4 L313.3,360.1 L313.3,361.4 L313.4,360.2 L313.5,362.0 L313.5,364.1 L313.6,363.6 L313.7,363.9 L313.7,362.1 L313.8,367.2 L313.9,367.1 L313.9,367.3 L314.0,367.4 L314.1,367.2 L314.1,369.4 L314.2,370.2 L314.3,372.5 L314.3,370.4 L314.4,374.5 L314.5,373.6 L314.5,375.8 L314.6,373.9 L314.7,376.3 L314.8,378.2 L314.8,377.6 L314.9,376.5 L315.0,378.7 L315.0,380.6 L315.1,378.9 L315.2,379.7 L315.2,382.6 L315.3,381.9 L315.4,384.7 L315.4,383.2 L315.5,383.2 L315.6,385.3 L315.7,388.9 L315.7,386.8 L315.8,388.6 L315.9,389.8 L316.0,389.1 L316.0,392.4 L316.1,392.1 L316.2,393.2 L316.3,391.3 L316.3,392.0 L316.4,391.6 L316.5,395.6 L316.6,396.3 L316.7,398.3 L316.8,400.1 L316.9,398.7 L316.9,399.5 L317.0,401.2 L317.1,403.3 L317.2,401.2 L317.3,403.8 L317.4,403.5 L317.5,404.1 L317.7,406.4 L317.8,405.2 L317.9,405.6 L318.0,408.6 L318.2,408.5 L318.3,409.0 L318.5,409.9 L318.6,411.5 L318.8,411.2 L318.9,413.4 L319.1,413.7 L319.2,415.9 L319.4,416.4 L319.6,416.6 L319.8,416.1 L320.0,417.3 L320.1,417.2 L320.3,422.3 L320.5,419.2 L320.8,420.9 L321.0,422.7 L321.2,420.1 L321.5,421.5 L321.7,422.8 L322.0,422.8 L322.3,423.2 L322.6,424.9 L322.9,427.9 L323.2,427.9 L323.6,427.8 L323.9,428.5 L324.2,427.1 L324.6,430.7 L325.1,431.1 L325.6,429.8 L326.3,431.8 L327.0,431.6 L327.8,431.5 L328.5,431.1 L329.3,431.7 L330.1,431.6 L330.9,433.5 L331.7,433.5 L332.5,433.6 L333.2,433.1 L334.0,432.9 L334.8,436.1 L335.6,431.4 L336.4,435.3 L337.2,434.4 L338.0,434.2 L338.8,433.7 L339.5,434.2 L340.3,433.1 L341.1,433.0 L341.9,434.8 L342.7,433.0 L343.5,436.3 L344.3,436.8 L345.0,431.2 L345.8,433.7 L346.6,436.1 L347.4,436.2 L348.2,436.2 L349.0,436.8 L349.8,437.3 L350.5,437.6 L351.3,438.9 L352.1,436.9 L352.9,438.1 L353.7,435.1 L354.5,437.2 L355.3,436.0 L356.0,439.4 L356.8,440.7 L357.6,438.6 L358.4,436.5 L359.2,438.2 L360.0,438.5 L360.7,438.9 L361.5,440.1 L362.3,440.1 L363.1,435.8 L363.9,441.0 L364.7,438.8 L365.4,438.9 L366.2,441.5 L367.0,439.6 L367.8,438.3 L368.6,438.5 L369.4,440.4 L370.2,441.6 L370.9,442.5 L371.7,440.6 L372.5,440.3 L373.3,443.1 L374.1,440.6 L374.9,443.2 L375.7,441.8 L376.5,441.9 L377.2,441.4 L378.0,442.2 L378.8,441.4 L379.6,441.2 L380.4,442.0 L381.2,441.5 L382.0,442.8 L382.8,442.6 L383.6,442.3 L384.4,442.5 L385.2,442.6 L386.0,445.2 L386.7,443.1 L387.5,442.5 L388.3,443.0 L389.1,444.3 L389.9,443.3 L390.7,443.5 L391.5,443.5 L392.3,444.1 L393.1,444.5 L393.9,444.7 L394.7,442.2 L395.5,443.0 L396.3,441.1 L397.1,445.5 L397.8,446.0 L398.6,446.3 L399.4,444.9 L400.2,446.3 L401.0,444.9 L401.8,444.8 L402.6,443.1 L403.4,444.1 L404.2,444.4 L405.0,446.4 L405.8,447.3 L406.6,444.7 L407.4,445.8 L408.2,445.7 L409.0,444.4 L409.8,443.2 L410.6,444.5 L411.4,443.6 L412.2,445.1 L413.0,445.3 L413.8,445.3 L414.6,445.3 L415.4,446.1 L416.2,444.4 L417.0,446.7 L417.8,443.5 L418.6,445.7 L419.4,446.1 L420.2,444.6 L421.0,443.7 L421.8,446.5 L422.6,444.8 L423.4,446.7 L424.2,446.7 L425.0,445.7 L425.8,445.7 L426.6,447.0 L427.4,446.2 L428.2,444.6 L429.0,446.0 L429.8,446.4 L430.6,446.0 L431.4,446.0 L432.2,445.6 L433.0,445.6" fill="none" stroke="#000" stroke-width="3.0" stroke-linejoin="round" stroke-linecap="butt"/>
<path d="M433.8,449.2 L434.4,449.1 L435.0,449.6 L435.6,449.3 L436.2,449.4 L436.8,449.1 L437.4,449.4 L438.0,449.2 L438.6,450.0 L439.2,449.2 L439.8,449.2 L440.4,449.6 L441.0,449.6 L441.6,449.0 L442.2,449.4 L442.8,449.6 L443.4,449.2 L444.0,449.5 L444.6,449.3 L445.2,449.2 L445.8,449.3 L446.4,449.3 L447.0,449.1 L447.6,449.8 L448.2,449.3 L448.8,449.2 L449.4,449.6 L450.0,449.4 L450.6,449.7 L451.2,449.3 L451.8,449.5 L452.4,449.4 L453.0,449.4 L453.6,449.4 L454.2,449.4 L454.8,449.7 L455.4,449.3 L456.0,449.3 L456.6,449.3 L457.2,449.5 L457.8,449.5 L458.4,449.6 L459.0,449.1 L459.6,449.4 L460.2,449.4 L460.8,449.3 L461.4,449.4 L462.0,449.0 L462.6,449.4 L463.2,449.4 L463.8,449.1 L464.4,449.4 L465.0,449.7 L465.6,449.3 L466.2,449.5 L466.8,449.3 L467.4,449.2 L468.0,449.2 L468.6,449.3 L469.2,449.7 L469.8,449.6 L470.4,449.3 L471.0,449.6 L471.6,449.4 L472.2,449.3 L472.8,449.5 L473.4,449.2 L474.0,449.1 L474.6,449.6 L475.2,449.0 L475.8,449.5 L476.4,449.0 L477.0,449.3 L477.6,449.3 L478.2,449.2 L478.8,448.9 L479.4,449.3 L480.0,449.3 L480.6,449.1 L481.2,449.2 L481.8,449.4 L482.4,449.1 L483.0,449.2 L483.6,448.9 L484.2,449.2 L484.8,449.3 L485.4,449.6 L486.0,449.3 L486.6,449.2 L487.2,449.3 L487.8,448.8 L488.4,449.2 L489.0,448.9 L489.6,448.8 L490.2,449.1 L490.8,448.9 L491.4,449.1 L492.0,448.6 L492.6,448.9 L493.2,448.7 L493.8,448.7 L494.4,448.4 L495.0,448.9 L495.6,448.7 L496.2,448.4 L496.8,448.3 L497.4,448.4 L498.0,448.8 L498.6,448.5 L499.2,448.4 L499.8,448.4 L500.4,448.3 L501.0,448.2 L501.6,448.2 L502.1,448.1 L502.7,448.1 L503.3,447.6 L503.9,447.7 L504.5,447.5 L505.1,447.5 L505.7,447.3 L506.3,447.1 L506.9,447.0 L507.4,447.2 L508.0,446.7 L508.6,446.5 L509.2,446.7 L509.8,446.7 L510.4,446.3 L511.0,446.2 L511.6,445.9 L512.1,445.9 L512.7,446.1 L513.3,445.9 L513.9,445.6 L514.5,445.4 L515.1,445.0 L515.7,445.3 L516.2,445.1 L516.8,445.1 L517.4,445.2 L518.0,444.7 L518.6,444.7 L519.2,444.1 L519.7,444.4 L520.3,444.2 L520.9,444.2 L521.5,443.9 L522.1,443.7 L522.6,443.7 L523.2,443.1 L523.8,443.2 L524.4,443.1 L524.9,442.6 L525.5,442.3 L526.1,442.5 L526.7,442.2 L527.2,442.1 L527.8,442.0 L528.4,441.5 L528.9,441.5 L529.5,441.5 L530.1,441.0 L530.6,440.8 L531.2,440.4 L531.8,440.6 L532.3,440.6 L532.9,439.7 L533.4,439.9 L534.0,439.7 L534.5,439.2 L535.1,439.0 L535.6,438.6 L536.2,438.4 L536.7,438.4 L537.3,438.2 L537.8,437.9 L538.4,437.8 L538.9,437.4 L539.4,436.8 L539.9,437.0 L540.4,436.5 L540.7,435.7 L541.0,435.6 L541.3,434.8 L541.5,434.2 L541.8,434.0 L542.1,432.7 L542.6,432.5 L543.0,433.3 L543.3,433.6 L543.6,434.0 L543.9,435.0 L544.1,435.4 L544.5,435.5 L545.0,435.9 L545.6,436.3 L546.2,436.5 L546.8,435.7 L547.4,436.1 L548.0,435.8 L548.5,435.3 L549.1,435.4 L549.6,434.9 L550.2,434.8 L550.7,434.9 L551.2,434.5 L551.8,434.2 L552.3,433.9 L552.9,433.6 L553.4,433.5 L554.0,432.9 L554.5,432.8 L555.1,432.8 L555.6,432.2 L556.1,432.0 L556.7,432.1 L557.2,431.9 L557.8,431.2 L558.3,430.9 L558.8,430.9 L559.4,430.6 L559.9,430.1 L560.4,430.1 L561.0,429.8 L561.5,429.4 L562.0,429.7 L562.5,429.1 L563.1,428.6 L563.6,428.4 L564.1,428.5 L564.6,427.8 L565.1,427.1 L565.6,427.0 L566.2,426.7 L566.7,426.2 L567.2,426.1 L567.7,425.7 L568.2,425.3 L568.6,424.9 L569.1,424.8 L569.6,423.9 L570.0,424.0 L570.5,423.5 L570.9,423.1 L571.4,422.2 L571.8,422.5 L572.2,421.4 L572.6,421.2 L573.0,421.0 L573.4,420.3 L573.8,419.9 L574.1,419.0 L574.5,418.9 L574.8,418.5 L575.2,418.1 L575.5,417.4 L575.8,417.0 L576.1,416.6 L576.4,415.8 L576.7,415.3 L577.0,415.3 L577.3,414.2 L577.6,414.1 L577.9,413.4 L578.2,413.1 L578.4,412.1 L578.7,411.8 L578.9,411.2 L579.2,410.6 L579.4,410.1 L579.6,409.4 L579.8,408.9 L580.0,408.3 L580.1,407.9 L580.3,407.2 L580.5,406.4 L580.6,406.0 L580.7,405.4 L580.8,404.7 L580.9,404.5 L581.0,403.8 L581.0,403.3 L581.1,402.3 L581.2,401.8 L581.3,401.5 L581.3,400.4 L581.4,400.2 L581.5,399.5 L581.6,398.8 L581.7,398.4 L581.9,397.5 L582.2,398.0 L582.3,398.3 L582.4,398.9 L582.5,400.0 L582.6,400.2 L582.7,400.5 L582.8,401.7 L583.0,401.9 L583.3,401.8 L583.8,402.2 L584.2,401.9 L584.6,401.4 L584.9,401.1 L585.1,400.2 L585.3,399.8 L585.5,398.9 L585.7,398.5 L585.8,398.2 L586.0,397.5 L586.2,396.8 L586.3,395.8 L586.5,395.5 L586.6,394.8 L586.8,394.6 L587.0,393.7 L587.1,393.4 L587.3,392.5 L587.4,392.5 L587.6,391.3 L587.8,391.0 L587.9,390.9 L588.1,389.9 L588.3,389.1 L588.4,388.8 L588.6,388.3 L588.7,387.7 L588.9,386.6 L589.1,386.4 L589.2,385.4 L589.4,385.6 L589.5,384.6 L589.7,384.0 L589.8,383.6 L590.0,383.0 L590.1,382.1 L590.3,382.0 L590.4,381.1 L590.5,380.2 L590.7,380.2 L590.8,379.7 L590.9,379.0 L591.1,378.3 L591.2,377.4 L591.3,377.2 L591.5,376.8 L591.6,376.0 L591.7,375.6 L591.8,374.5 L591.9,374.3 L592.1,373.7 L592.2,372.6 L592.3,372.0 L592.4,371.6 L592.5,371.2 L592.6,370.7 L592.7,369.9 L592.8,369.4 L592.9,368.8 L593.0,368.2 L593.1,367.7 L593.2,367.1 L593.2,366.4 L593.3,365.9 L593.4,365.1 L593.5,364.8 L593.6,363.9 L593.7,363.8 L593.8,362.8 L593.9,362.3 L593.9,361.5 L594.0,361.0 L594.1,360.5 L594.2,359.9 L594.3,359.2 L594.4,358.5 L594.4,358.1 L594.5,357.5 L594.6,357.0 L594.7,356.6 L594.8,355.7 L594.9,354.7 L594.9,354.5 L595.0,353.6 L595.1,353.1 L595.2,353.0 L595.3,352.3 L595.4,351.4 L595.5,350.8 L595.6,350.4 L595.6,349.4 L595.7,349.3 L595.8,348.5 L595.9,348.4 L596.0,347.2 L596.1,347.0 L596.2,346.1 L596.3,345.8 L596.4,344.9 L596.5,344.6 L596.6,343.8 L596.7,343.1 L596.8,342.7 L596.9,342.2 L597.0,341.6 L597.1,341.2 L597.2,340.5 L597.4,339.2 L597.5,339.1 L597.6,338.2 L597.7,337.9 L597.8,337.5 L597.9,336.5 L598.0,336.0 L598.1,335.6 L598.2,335.0 L598.3,334.7 L598.5,333.9 L598.6,333.3 L598.7,333.0 L598.8,332.0 L598.9,331.5 L599.0,330.7 L599.1,330.4 L599.3,329.9 L599.4,329.4 L599.5,328.5 L599.6,327.8 L599.7,327.2 L599.8,326.5 L600.0,326.2 L600.1,325.9 L600.2,324.5 L600.3,324.0 L600.4,324.1 L600.5,322.9 L600.6,322.7 L600.7,321.8 L600.8,321.6 L600.9,321.0 L601.0,320.3 L601.1,319.9 L601.3,319.1 L601.4,318.6 L601.5,318.3 L601.6,317.6 L601.7,316.6 L601.9,316.0 L602.0,315.5 L602.2,315.0 L602.3,314.4 L602.5,313.7 L602.7,313.4 L603.1,312.8 L603.4,312.4 L603.8,311.8 L604.2,311.5 L604.7,310.8 L605.3,311.4 L605.7,311.6 L606.2,312.0 L606.7,312.0 L607.1,311.7 L607.3,311.0 L607.5,310.4 L607.8,309.7 L608.0,308.9 L608.2,308.7 L608.5,308.1 L609.0,307.8 L609.3,308.8 L609.5,308.5 L609.6,309.5 L609.8,310.3 L609.9,310.8 L610.0,311.5 L610.1,311.6 L610.2,312.2 L610.3,313.1 L610.4,313.5 L610.5,314.5 L610.6,314.8 L610.7,315.4 L610.7,316.1 L610.8,316.5 L610.9,317.2 L610.9,317.6 L611.0,318.3 L611.0,318.9 L611.0,319.6 L611.1,319.9 L611.1,320.5 L611.2,321.4 L611.2,322.0 L611.2,322.4 L611.3,323.1 L611.3,323.5 L611.3,324.8 L611.4,324.6 L611.4,325.9 L611.4,326.0 L611.5,326.8 L611.5,327.3 L611.5,327.9 L611.6,328.7 L611.6,329.3 L611.6,329.7 L611.7,330.2 L611.7,331.3 L611.7,331.8 L611.8,332.2 L611.8,332.7 L611.8,333.4 L611.9,333.9 L611.9,334.8 L612.0,334.9 L612.0,335.7 L612.0,336.2 L612.1,337.2 L612.1,337.9 L612.1,338.1 L612.2,338.8 L612.2,339.6 L612.3,339.9 L612.3,340.3 L612.4,341.3 L612.4,341.8 L612.5,342.3 L612.6,343.2 L612.6,343.5 L612.7,343.7 L612.7,344.8 L612.8,345.3 L612.8,346.3 L612.9,346.5 L612.9,347.0 L613.0,347.8 L613.1,348.3 L613.1,348.6 L613.2,349.5 L613.3,350.0 L613.3,350.9 L613.4,351.7 L613.5,351.6 L613.6,352.2 L613.7,352.9 L613.9,353.5 L614.3,354.0 L614.6,354.6 L615.0,355.3 L615.4,355.2 L615.9,355.5 L616.5,355.6 L617.1,356.1 L617.5,355.7 L617.8,354.6 L618.0,354.1 L618.2,353.9 L618.4,353.5 L618.6,352.9 L618.8,352.2 L619.0,351.7 L619.1,351.1 L619.3,350.3 L619.5,350.2 L619.6,349.3 L619.7,348.4 L619.8,348.0 L619.9,347.2 L620.0,346.9 L620.1,346.5 L620.2,345.5 L620.3,345.3 L620.4,344.9 L620.4,344.0 L620.5,343.1 L620.6,342.6 L620.7,342.1 L620.7,341.3 L620.8,340.7 L620.9,340.3 L620.9,339.7 L621.0,339.3 L621.1,338.3 L621.1,338.3 L621.2,337.6 L621.3,336.9 L621.3,336.0 L621.4,335.9 L621.5,334.9 L621.5,334.7 L621.6,334.0 L621.7,333.0 L621.7,332.5 L621.8,332.4 L621.8,331.6 L621.9,330.8 L622.0,330.2 L622.0,329.6 L622.1,328.9 L622.2,328.4 L622.2,327.7 L622.3,327.1 L622.4,326.7 L622.4,325.8 L622.5,325.6 L622.6,324.9 L622.6,324.4 L622.7,323.8 L622.8,323.3 L622.8,322.6 L622.9,322.0 L623.0,321.2 L623.1,320.8 L623.1,319.9 L623.2,319.4 L623.3,319.0 L623.4,318.3 L623.5,317.8 L623.5,316.9 L623.6,316.8 L623.7,315.8 L623.8,315.4 L623.9,314.7 L623.9,314.3 L624.0,313.5 L624.1,312.7 L624.2,312.0 L624.3,311.7 L624.3,310.9 L624.4,310.7 L624.5,310.3 L624.6,308.9 L624.6,308.5 L624.7,308.2 L624.8,307.8 L624.9,307.0 L624.9,306.5 L625.0,305.9 L625.1,305.3 L625.1,304.9 L625.2,304.1 L625.2,303.2 L625.3,302.7 L625.4,302.3 L625.4,301.5 L625.5,301.0 L625.5,300.3 L625.6,299.7 L625.6,299.4 L625.7,298.6 L625.8,297.8 L625.8,297.3 L625.9,296.8 L625.9,296.7 L626.0,295.7 L626.0,295.3 L626.0,294.5 L626.1,293.4 L626.1,293.3 L626.2,292.5 L626.2,291.8 L626.3,291.2 L626.3,291.2 L626.3,289.9 L626.4,289.5 L626.4,289.3 L626.4,288.6 L626.5,287.5 L626.5,287.2 L626.5,286.6 L626.6,286.0 L626.6,285.6 L626.6,284.7 L626.7,284.2 L626.7,284.0 L626.7,282.7 L626.8,282.4 L626.8,282.0 L626.8,281.0 L626.8,280.5 L626.9,279.8 L626.9,279.5 L626.9,278.7 L627.0,278.4 L627.0,277.9 L627.0,277.1 L627.0,276.4 L627.1,275.9 L627.1,275.3 L627.1,274.4 L627.2,274.3 L627.2,273.5 L627.2,273.0 L627.2,272.0 L627.3,271.9 L627.3,271.5 L627.3,270.6 L627.3,269.6 L627.4,269.3 L627.4,268.7 L627.4,268.1 L627.4,267.4 L627.5,267.0 L627.5,266.2 L627.5,265.7 L627.5,264.9 L627.6,264.5 L627.6,264.1 L627.6,263.2 L627.6,262.8 L627.7,261.9 L627.7,261.4 L627.7,260.8 L627.7,260.5 L627.8,259.5 L627.8,259.3 L627.8,258.2 L627.8,257.9 L627.9,257.5 L627.9,256.8 L627.9,255.9 L627.9,255.2 L628.0,255.1 L628.0,254.0 L628.0,253.8 L628.0,253.0 L628.1,252.5 L628.1,252.4 L628.1,251.6 L628.1,250.9 L628.2,249.8 L628.2,249.6 L628.2,248.9 L628.2,248.3 L628.3,248.0 L628.3,246.7 L628.3,246.6 L628.3,245.9 L628.3,245.1 L628.4,245.0 L628.4,243.8 L628.4,243.5 L628.4,242.9 L628.5,241.9 L628.5,241.4 L628.5,240.9 L628.5,240.7 L628.5,240.1 L628.6,239.4 L628.6,238.7 L628.6,237.7 L628.6,237.5 L628.6,236.8 L628.7,236.5 L628.7,236.0 L628.7,235.6 L628.7,234.6 L628.8,234.1 L628.8,233.1 L628.8,232.7 L628.8,231.9 L628.8,231.7 L628.9,230.7 L628.9,230.3 L628.9,229.5 L628.9,229.0 L628.9,228.6 L628.9,227.8 L629.0,227.4 L629.0,226.5 L629.0,226.4 L629.0,225.4 L629.0,225.1 L629.1,224.7 L629.1,223.2 L629.1,222.9 L629.1,222.5 L629.1,222.1 L629.2,221.2 L629.2,220.8 L629.2,220.0 L629.2,219.6 L629.2,218.7 L629.3,218.5 L629.3,217.1 L629.3,216.7 L629.3,216.9 L629.3,215.9 L629.4,215.1 L629.4,215.2 L629.4,214.3 L629.4,213.7 L629.4,212.8 L629.5,212.4 L629.5,211.8 L629.5,210.8 L629.5,210.6 L629.5,209.9 L629.5,209.6 L629.6,209.0 L629.6,208.0 L629.6,207.4 L629.6,207.0 L629.6,206.4 L629.7,205.6 L629.7,205.1 L629.7,204.6 L629.7,204.0 L629.7,203.6 L629.8,202.8 L629.8,201.9 L629.8,201.2 L629.8,201.1 L629.8,200.3 L629.9,199.6 L629.9,199.1 L629.9,198.2 L629.9,197.8 L630.0,196.8 L630.0,196.6 L630.0,195.9 L630.0,195.9 L630.0,195.0 L630.1,194.3 L630.1,193.8 L630.1,193.3 L630.1,192.4 L630.1,191.9 L630.2,191.3 L630.2,191.2 L630.2,190.1 L630.2,189.1 L630.3,189.1 L630.3,188.9 L630.3,187.5 L630.3,187.8 L630.3,186.5 L630.4,186.1 L630.4,185.2 L630.4,184.7 L630.4,183.9 L630.5,183.3 L630.5,182.5 L630.5,182.6 L630.5,181.5 L630.5,181.2 L630.6,180.6 L630.6,179.8 L630.6,179.3 L630.6,178.7 L630.7,178.0 L630.7,177.5 L630.7,176.9 L630.7,176.1 L630.7,175.5 L630.8,175.0 L630.8,174.6 L630.8,174.2 L630.8,173.6 L630.9,172.8 L630.9,172.3 L630.9,171.6 L630.9,171.2 L630.9,170.4 L631.0,169.8 L631.0,169.1 L631.0,168.5 L631.0,168.3 L631.1,167.1 L631.1,166.7 L631.1,166.0 L631.1,165.7 L631.2,165.3 L631.2,164.3 L631.2,163.2 L631.2,163.3 L631.3,162.7 L631.3,161.6 L631.3,161.3 L631.3,160.7 L631.4,159.7 L631.4,159.7 L631.4,159.0 L631.4,158.4 L631.4,157.5 L631.5,157.0 L631.5,156.4 L631.5,156.0 L631.5,155.1 L631.6,155.1 L631.6,154.2 L631.6,153.1 L631.6,153.3 L631.7,152.4 L631.7,151.6 L631.7,151.2 L631.7,150.2 L631.8,150.0 L631.8,148.8 L631.8,148.5 L631.9,148.4 L631.9,147.8 L631.9,146.9 L631.9,146.2 L632.0,145.9 L632.0,145.1 L632.0,144.6 L632.0,144.1 L632.1,143.1 L632.1,142.9 L632.1,141.7 L632.1,141.9 L632.2,140.6 L632.2,140.2 L632.2,139.6 L632.2,139.3 L632.3,138.7 L632.3,138.0 L632.3,137.5 L632.4,136.9 L632.4,136.1 L632.4,135.2 L632.4,134.5 L632.5,133.9 L632.5,133.8 L632.5,133.1 L632.5,132.5 L632.6,132.0 L632.6,131.3 L632.6,130.6 L632.6,129.9 L632.7,129.2 L632.7,129.2 L632.7,128.6 L632.8,127.5 L632.8,127.1 L632.8,126.7 L632.8,126.3 L632.9,125.2 L632.9,124.8 L632.9,124.4 L633.0,123.2 L633.0,122.8 L633.0,122.4 L633.0,121.6 L633.1,121.6 L633.1,120.8 L633.1,120.0 L633.2,119.2 L633.2,119.0 L633.2,118.3 L633.2,117.5 L633.3,116.9 L633.3,116.1 L633.3,115.8 L633.4,115.4 L633.4,114.8 L633.4,114.1 L633.4,113.6 L633.5,112.7 L633.5,112.1 L633.5,111.8 L633.6,111.1 L633.6,110.2 L633.6,109.9 L633.6,109.4 L633.7,108.7 L633.7,108.0 L633.7,107.3 L633.8,106.9 L633.8,106.5 L633.8,105.6 L633.8,104.9 L633.9,104.5 L633.9,103.5 L633.9,103.2 L634.0,102.5 L634.0,102.2 L634.0,101.4 L634.0,101.0 L634.1,100.7 L634.1,99.6 L634.1,98.8 L634.2,98.5 L634.2,97.8 L634.2,97.2 L634.3,96.5 L634.3,96.1 L634.3,95.4 L634.3,94.4 L634.4,94.2 L634.4,93.7 L634.4,93.3 L634.5,92.3 L634.5,91.6 L634.5,91.4 L634.5,90.5 L634.6,90.0 L634.6,89.5 L634.6,89.0 L634.7,88.2 L634.7,87.4 L634.7,87.2 L634.7,86.3 L634.8,85.7 L634.8,85.6 L634.8,84.8 L634.9,83.8 L634.9,83.3 L634.9,82.8 L635.0,82.1 L635.0,81.2 L635.0,81.2 L635.1,80.6 L635.1,79.9 L635.1,79.1 L635.1,78.7 L635.2,78.2 L635.2,77.2 L635.2,76.8 L635.3,76.1 L635.3,75.8 L635.3,75.1 L635.4,74.2 L635.4,73.7 L635.4,73.6 L635.5,72.4 L635.5,72.1 L635.5,71.3 L635.6,71.1 L635.6,70.2 L635.6,69.5 L635.7,68.8 L635.7,68.4 L635.8,68.0 L635.8,67.4 L635.8,66.4 L635.9,66.4 L635.9,65.4 L635.9,64.6 L636.0,64.3 L636.0,63.5 L636.1,62.9 L636.1,62.3 L636.1,61.8 L636.2,61.2 L636.2,60.3 L636.3,60.2 L636.3,59.4 L636.3,59.1 L636.4,58.4 L636.4,57.8 L636.4,57.1 L636.5,56.7 L636.5,55.8 L636.5,55.1 L636.6,54.7 L636.6,53.5 L636.7,53.4 L636.7,52.9 L636.7,52.2 L636.8,51.9 L636.8,51.2 L636.8,50.5 L636.9,49.8 L636.9,49.5 L637.0,48.5 L637.0,48.0 L637.0,47.6 L637.1,47.0 L637.1,46.7 L637.2,45.6 L637.2,44.7 L637.3,44.6 L637.3,44.2 L637.4,43.3 L637.4,43.0 L637.5,42.5 L637.5,41.4 L637.6,40.8 L637.7,40.1 L637.9,39.8 L638.2,39.9 L638.4,40.4 L638.6,40.6 L638.7,41.3 L638.8,41.7 L638.9,42.3 L639.0,43.0 L639.0,43.5 L639.1,44.4 L639.2,45.1 L639.3,45.7 L639.3,46.2 L639.4,46.7 L639.5,47.4 L639.5,48.1 L639.6,48.5 L639.7,49.2 L639.7,49.7 L639.8,50.3 L639.9,51.0 L639.9,51.3 L640.0,52.4 L640.0,52.4 L640.1,53.5 L640.2,53.7 L640.2,54.9 L640.3,55.3 L640.4,55.6 L640.4,56.3 L640.5,56.7 L640.5,57.5 L640.6,58.2 L640.7,59.3 L640.7,59.1 L640.8,60.2 L640.8,60.4 L640.9,61.2 L640.9,61.9 L641.0,62.4 L641.0,63.0 L641.1,63.5 L641.1,64.1 L641.2,64.7 L641.2,65.6 L641.3,65.6 L641.3,66.4 L641.4,66.9 L641.4,67.5 L641.4,68.1 L641.5,69.1 L641.5,69.9 L641.6,70.4 L641.6,70.5 L641.7,71.3 L641.7,71.7 L641.7,72.6 L641.8,73.4 L641.8,73.8 L641.8,74.5 L641.9,74.9 L641.9,75.1 L642.0,75.7 L642.0,76.7 L642.0,77.4 L642.1,78.1 L642.1,78.4 L642.1,79.1 L642.2,79.7 L642.2,80.5 L642.2,80.9 L642.3,81.3 L642.3,82.3 L642.3,82.8 L642.4,83.4 L642.4,83.6 L642.4,84.5 L642.5,84.7 L642.5,85.3 L642.5,86.2 L642.5,86.8 L642.6,87.6 L642.6,88.4 L642.6,88.7 L642.6,89.6 L642.7,89.7 L642.7,90.6 L642.7,90.8 L642.7,91.7 L642.8,92.2 L642.8,92.8 L642.8,93.6 L642.8,93.7 L642.8,94.7 L642.9,95.1 L642.9,95.9 L642.9,96.5 L642.9,97.0 L642.9,97.6 L642.9,98.0 L643.0,99.0 L643.0,99.3 L643.0,100.2 L643.0,100.4 L643.0,101.5 L643.1,101.7 L643.1,102.7 L643.1,103.0 L643.1,103.8 L643.1,104.2 L643.1,105.0 L643.2,105.5 L643.2,106.3 L643.2,106.8 L643.2,107.4 L643.2,108.2 L643.3,108.3 L643.3,109.3 L643.3,109.7 L643.3,110.0 L643.3,111.0 L643.3,111.4 L643.4,112.4 L643.4,112.6 L643.4,113.3 L643.4,113.9 L643.4,114.1 L643.5,115.2 L643.5,115.5 L643.5,116.5 L643.5,117.2 L643.5,117.5 L643.6,117.7 L643.6,118.7 L643.6,119.3 L643.6,120.0 L643.7,120.4 L643.7,120.8 L643.7,121.6 L643.7,122.1 L643.7,123.2 L643.8,123.3 L643.8,123.9 L643.8,124.6 L643.8,125.0 L643.9,125.8 L643.9,126.4 L643.9,126.9 L643.9,127.6 L644.0,128.5 L644.0,128.9 L644.0,129.2 L644.0,130.0 L644.1,130.8 L644.1,131.1 L644.1,131.9 L644.2,132.4 L644.2,133.1 L644.2,133.6 L644.2,134.2 L644.3,134.7 L644.3,135.5 L644.3,135.8 L644.3,137.0 L644.4,137.2 L644.4,137.8 L644.4,138.6 L644.5,139.0 L644.5,139.7 L644.5,140.2 L644.5,140.7 L644.6,141.2 L644.6,141.9 L644.6,142.9 L644.6,143.1 L644.7,143.7 L644.7,144.3 L644.7,145.2 L644.8,146.0 L644.8,146.0 L644.8,146.9 L644.8,147.5 L644.9,148.0 L644.9,148.7 L644.9,149.0 L644.9,150.0 L645.0,150.5 L645.0,150.8 L645.0,151.9 L645.0,152.4 L645.1,153.1 L645.1,153.1 L645.1,154.0 L645.1,154.5 L645.2,155.3 L645.2,156.1 L645.2,156.0 L645.2,157.0 L645.3,157.6 L645.3,158.4 L645.3,158.8 L645.3,159.2 L645.4,160.0 L645.4,160.4 L645.4,161.1 L645.4,161.8 L645.5,162.3 L645.5,163.1 L645.5,163.3 L645.5,164.7 L645.5,165.1 L645.6,165.6 L645.6,165.7 L645.6,166.2 L645.6,167.0 L645.7,167.8 L645.7,168.9 L645.7,169.3 L645.7,169.5 L645.7,170.5 L645.8,171.1 L645.8,171.4 L645.8,172.3 L645.8,172.7 L645.8,173.1 L645.9,173.6 L645.9,174.4 L645.9,175.2 L645.9,175.3 L645.9,175.9 L646.0,176.9 L646.0,176.8 L646.0,178.4 L646.0,178.5 L646.0,179.4 L646.1,180.2 L646.1,180.1 L646.1,180.8 L646.1,182.1 L646.1,182.1 L646.2,182.8 L646.2,183.4 L646.2,184.2 L646.2,184.9 L646.2,185.2 L646.3,185.7 L646.3,186.4 L646.3,187.1 L646.3,187.9 L646.3,188.2 L646.4,189.2 L646.4,189.2 L646.4,190.1 L646.4,191.0 L646.4,191.5 L646.5,191.9 L646.5,192.2 L646.5,192.8 L646.5,193.6 L646.5,194.3 L646.6,194.7 L646.6,195.1 L646.6,195.8 L646.6,196.7 L646.6,197.4 L646.7,197.5 L646.7,198.3 L646.7,198.6 L646.7,199.5 L646.8,200.9 L646.8,200.8 L646.8,201.3 L646.8,201.9 L646.8,202.3 L646.9,202.8 L646.9,203.8 L646.9,204.3 L646.9,205.3 L646.9,205.3 L647.0,206.3 L647.0,207.1 L647.0,207.0 L647.0,208.1 L647.1,208.3 L647.1,209.3 L647.1,210.1 L647.1,210.4 L647.2,211.0 L647.2,211.4 L647.2,212.2 L647.2,213.0 L647.2,213.3 L647.3,214.0 L647.3,214.7 L647.3,215.3 L647.3,215.4 L647.4,216.4 L647.4,216.8 L647.4,217.7 L647.4,218.4 L647.5,218.8 L647.5,219.6 L647.5,219.8 L647.5,220.5 L647.6,221.0 L647.6,221.8 L647.6,222.4 L647.6,222.9 L647.6,223.3 L647.7,224.2 L647.7,224.7 L647.7,225.5 L647.7,225.9 L647.8,226.8 L647.8,227.2 L647.8,227.4 L647.8,228.3 L647.9,228.7 L647.9,229.8 L647.9,230.5 L647.9,230.8 L648.0,231.5 L648.0,231.7 L648.0,232.1 L648.0,233.1 L648.1,233.7 L648.1,234.1 L648.1,235.0 L648.1,235.6 L648.2,236.3 L648.2,237.1 L648.2,237.5 L648.2,237.9 L648.3,238.6 L648.3,239.3 L648.3,239.5 L648.3,240.6 L648.4,241.1 L648.4,241.5 L648.4,242.0 L648.4,243.5 L648.5,243.5 L648.5,244.1 L648.5,244.9 L648.5,245.4 L648.6,245.8 L648.6,246.5 L648.6,246.8 L648.6,247.7 L648.7,247.8 L648.7,248.8 L648.7,249.5 L648.7,249.6 L648.8,250.9 L648.8,250.9 L648.8,252.0 L648.8,252.2 L648.9,253.0 L648.9,253.4 L648.9,254.7 L648.9,255.0 L649.0,255.7 L649.0,256.1 L649.0,256.7 L649.0,257.2 L649.1,257.7 L649.1,258.5 L649.1,259.0 L649.1,259.5 L649.2,259.9 L649.2,260.7 L649.2,261.5 L649.2,261.8 L649.3,262.6 L649.3,263.1 L649.3,263.5 L649.3,264.2 L649.4,264.8 L649.4,265.5 L649.4,266.1 L649.4,267.0 L649.5,267.1 L649.5,267.5 L649.5,268.7 L649.5,269.0 L649.6,269.7 L649.6,270.9 L649.6,271.2 L649.6,271.7 L649.7,272.3 L649.7,272.8 L649.7,273.5 L649.7,273.8 L649.8,274.4 L649.8,275.0 L649.8,276.1 L649.8,276.7 L649.9,276.8 L649.9,277.8 L649.9,278.1 L650.0,279.0 L650.0,279.3 L650.0,280.1 L650.0,280.5 L650.1,281.1 L650.1,281.7 L650.1,282.4 L650.1,282.8 L650.2,283.2 L650.2,284.5 L650.2,284.6 L650.3,285.0 L650.3,285.5 L650.3,285.9 L650.4,287.0 L650.4,288.0 L650.4,288.0 L650.4,288.9 L650.5,289.1 L650.5,290.3 L650.5,290.8 L650.6,291.4 L650.6,292.2 L650.6,292.9 L650.7,293.3 L650.7,293.6 L650.7,294.0 L650.7,294.7 L650.8,295.2 L650.8,296.5 L650.8,296.7 L650.9,297.3 L650.9,298.0 L650.9,298.9 L651.0,299.0 L651.0,300.0 L651.0,300.4 L651.1,300.9 L651.1,301.1 L651.1,302.3 L651.1,302.6 L651.2,303.2 L651.2,303.9 L651.2,304.5 L651.3,305.3 L651.3,305.6 L651.3,306.3 L651.4,307.0 L651.4,307.5 L651.4,308.2 L651.5,308.6 L651.5,309.5 L651.5,309.7 L651.6,310.2 L651.6,311.1 L651.6,311.9 L651.7,312.2 L651.7,312.8 L651.7,313.4 L651.8,314.1 L651.8,314.6 L651.9,315.3 L651.9,315.5 L651.9,316.8 L652.0,317.2 L652.0,317.5 L652.0,318.6 L652.1,319.0 L652.1,319.8 L652.2,319.8 L652.2,321.0 L652.2,321.3 L652.3,321.4 L652.3,322.6 L652.4,323.0 L652.4,323.5 L652.4,324.2 L652.5,324.5 L652.5,325.6 L652.6,326.0 L652.6,326.6 L652.7,327.5 L652.7,327.9 L652.8,328.3 L652.8,328.9 L652.8,329.6 L652.9,330.5 L652.9,330.7 L653.0,331.2 L653.0,332.2 L653.1,332.7 L653.1,333.2 L653.2,334.3 L653.2,334.2 L653.3,335.1 L653.3,335.3 L653.4,336.2 L653.4,336.9 L653.5,337.7 L653.5,337.8 L653.6,338.8 L653.6,339.4 L653.7,339.8 L653.8,340.9 L653.8,341.0 L653.9,341.4 L653.9,342.3 L654.0,342.4 L654.0,343.7 L654.1,344.2 L654.2,344.5 L654.2,345.3 L654.3,345.9 L654.3,346.8 L654.4,346.9 L654.4,347.3 L654.5,347.8 L654.6,348.7 L654.6,349.0 L654.7,349.9 L654.8,350.6 L654.8,351.1 L654.9,351.6 L654.9,352.6 L655.0,352.9 L655.1,353.6 L655.1,354.3 L655.2,354.5 L655.3,355.1 L655.3,356.4 L655.4,356.5 L655.5,356.9 L655.5,357.7 L655.6,358.2 L655.7,358.7 L655.7,359.4 L655.8,360.1 L655.9,360.7 L656.0,361.4 L656.0,361.5 L656.1,362.2 L656.2,363.2 L656.2,363.6 L656.3,364.5 L656.4,364.9 L656.5,365.2 L656.5,366.2 L656.6,366.4 L656.7,367.3 L656.8,368.1 L656.8,368.9 L656.9,369.0 L657.0,369.8 L657.1,370.3 L657.2,371.0 L657.2,370.9 L657.3,371.9 L657.4,372.7 L657.5,373.3 L657.6,373.6 L657.7,374.6 L657.8,375.2 L657.9,375.6 L657.9,376.1 L658.0,376.7 L658.1,377.4 L658.2,378.2 L658.3,378.8 L658.4,379.0 L658.5,379.5 L658.6,380.1 L658.7,381.1 L658.8,381.5 L658.9,382.1 L659.0,382.8 L659.1,383.3 L659.2,383.8 L659.4,384.2 L659.5,384.9 L659.6,385.6 L659.7,386.3 L659.8,386.7 L659.9,387.3 L660.0,388.3 L660.2,388.5 L660.3,389.2 L660.4,389.7 L660.5,390.2 L660.6,390.6 L660.8,391.4 L660.9,391.9 L661.0,392.9 L661.1,393.0 L661.3,393.8 L661.4,394.6 L661.5,395.0 L661.6,395.7 L661.8,396.4 L661.9,396.4 L662.0,397.3 L662.2,397.8 L662.3,398.8 L662.4,399.1 L662.6,399.8 L662.7,400.6 L662.8,400.8 L663.0,401.5 L663.1,402.1 L663.2,402.6 L663.4,403.5 L663.5,404.0 L663.7,404.6 L663.8,405.0 L664.0,405.5 L664.1,406.1 L664.3,406.6 L664.4,406.9 L664.6,407.9 L664.7,408.6 L664.9,409.0 L665.1,409.5 L665.2,410.2 L665.4,410.8 L665.6,411.4 L665.8,412.3 L665.9,412.3 L666.1,413.1 L666.3,413.7 L666.5,414.2 L666.7,414.7 L666.9,415.1 L667.1,415.7 L667.3,416.6 L667.5,417.3 L667.8,417.4 L668.0,418.2 L668.2,418.8 L668.4,419.4 L668.7,419.8 L668.9,420.4 L669.1,421.1 L669.4,421.2 L669.6,422.0 L669.9,422.1 L670.2,422.6 L670.4,423.4 L670.7,423.8 L671.0,424.8 L671.2,425.4 L671.5,425.7 L671.8,426.2 L672.1,426.7 L672.4,427.3 L672.7,427.9 L673.0,428.4 L673.3,428.8 L673.6,429.2 L673.9,429.8 L674.2,430.6 L674.5,430.8 L674.9,431.7 L675.2,431.8 L675.6,432.7 L675.9,432.6 L676.3,433.2 L676.7,433.8 L677.2,434.3 L677.6,434.6 L678.0,435.4 L678.4,435.5 L678.8,435.9 L679.3,436.2 L679.7,437.0 L680.2,437.3 L680.6,437.6 L681.1,437.5 L681.6,438.3 L682.0,438.5 L682.5,439.0 L683.0,439.4 L683.6,439.4 L684.1,439.9 L684.7,440.2 L685.2,440.3" fill="none" stroke="#000" stroke-width="2.6" stroke-linejoin="round" stroke-linecap="butt"/>
<path d="M685.5,440.1 L686.2,439.6 L686.9,440.1 L687.6,439.8 L688.2,441.7 L688.9,441.2 L689.6,440.2 L690.3,441.4 L691.0,440.5 L691.7,439.0 L692.3,442.7 L693.0,442.8 L693.7,440.8 L694.4,441.6 L695.1,442.4 L695.8,442.1 L696.5,441.8 L697.2,442.2 L697.9,442.5 L698.6,442.3 L699.3,443.0 L700.0,442.8 L700.7,442.4 L701.3,443.1 L702.0,441.9 L702.7,444.5 L703.4,442.0 L704.1,443.4 L704.8,443.8 L705.5,444.0 L706.2,443.9 L706.9,444.8 L707.6,443.0 L708.3,443.9 L709.0,444.1 L709.7,443.7 L710.4,443.7 L711.1,445.2 L711.8,443.7 L712.5,443.9 L713.2,444.1 L713.9,444.2 L714.6,444.6 L715.3,444.3 L716.0,444.8 L716.7,444.6 L717.4,444.9 L718.1,445.6 L718.8,443.8 L719.5,445.8 L720.2,444.1 L720.9,444.9 L721.6,444.4 L722.3,444.0 L723.0,442.6 L723.6,445.3 L724.3,443.3 L725.0,443.2 L725.7,444.5 L726.4,443.6 L727.1,444.9 L727.8,444.6 L728.4,443.6 L729.1,443.1 L729.8,443.3 L730.5,441.5 L731.2,442.5 L731.8,442.3 L732.5,441.7 L733.2,442.1 L733.9,440.6 L734.6,442.3 L735.3,442.4 L735.9,440.2 L736.6,441.2 L737.3,442.2 L738.0,441.1 L738.7,439.8 L739.4,439.7 L740.0,441.1 L740.7,441.7 L741.4,439.3 L742.1,440.0 L742.8,439.3 L743.5,439.5 L744.2,439.8 L744.9,439.4 L745.5,438.8 L746.2,440.8 L746.9,438.9 L747.6,438.7 L748.3,439.5 L748.9,438.4 L749.6,438.1 L750.3,438.8 L750.9,436.9 L751.6,438.1 L752.2,438.0 L752.8,437.4 L753.4,436.3 L754.0,436.1 L754.6,434.3 L755.1,435.2 L755.7,435.1 L756.3,435.2 L756.8,434.2 L757.4,433.4 L758.0,432.6 L758.6,432.9 L759.2,432.6 L759.7,433.1 L760.3,431.7 L760.9,430.9 L761.4,430.8 L762.0,430.1 L762.6,429.9 L763.2,428.1 L763.9,428.3 L764.5,428.4 L765.2,429.5 L765.9,428.8 L766.6,428.8 L767.2,429.5 L767.9,427.5 L768.6,429.1 L769.3,428.4 L770.0,427.4 L770.7,429.0 L771.4,426.6 L772.1,426.8 L772.8,427.5 L773.5,428.1 L774.2,427.7 L774.8,426.4 L775.5,428.1 L776.1,428.5 L776.8,430.9 L777.4,430.3 L778.0,429.6 L778.6,429.0 L779.3,430.4 L779.9,429.5 L780.5,430.9 L781.2,431.3 L781.8,431.0 L782.4,431.9 L783.0,431.8 L783.6,431.9 L784.2,433.9 L784.9,433.5 L785.5,433.1 L786.1,433.0 L786.8,434.1 L787.4,434.6 L788.1,435.1 L788.7,435.8 L789.4,435.2 L790.0,434.2 L790.7,436.9 L791.4,436.5 L792.0,436.4 L792.7,437.0 L793.4,435.0 L794.1,436.1 L794.7,436.1 L795.4,437.7 L796.1,435.9 L796.8,436.8 L797.5,438.3 L798.2,437.8 L798.9,437.0 L799.5,438.9 L800.2,436.5 L800.9,438.0 L801.6,437.5 L802.3,438.2 L803.0,437.6 L803.7,437.3 L804.4,438.2 L805.1,437.0 L805.8,438.5 L806.5,437.9 L807.2,439.0 L807.9,437.9 L808.6,437.8 L809.3,438.7 L810.0,439.4 L810.7,436.8 L811.4,438.5 L812.1,438.9 L812.8,437.3 L813.5,437.7 L814.2,438.9 L814.9,437.8 L815.6,437.9 L816.3,439.8 L817.0,437.7 L817.7,437.7 L818.4,436.6 L819.1,437.5" fill="none" stroke="#000" stroke-width="3.1" stroke-linejoin="round" stroke-linecap="butt"/>
<path d="M535.8,456.2 L536.4,450.3 L537.1,457.6 L537.7,450.0 L538.4,456.5 L539.0,451.9 L539.7,458.3 L540.3,452.3 L541.0,458.9 L541.6,452.7 L542.3,458.0 L542.9,452.0 L543.6,455.7 L544.2,451.6 L544.9,456.9 L545.5,451.1 L546.2,456.4 L546.8,450.2 L547.5,455.6 L548.1,450.5 L548.8,456.3 L549.4,449.8 L550.1,454.5 L550.7,449.8 L551.4,457.0 L552.0,450.1 L552.6,455.1 L553.3,450.1 L553.9,456.1 L554.6,449.9 L555.2,455.1 L555.9,449.8 L556.5,457.0 L557.2,450.4 L557.8,457.0 L558.5,451.0 L559.1,459.3 L559.8,449.7 L560.4,456.2 L561.1,449.2 L561.7,457.8 L562.4,451.7 L563.0,454.9 L563.7,448.2 L564.3,457.5 L564.9,448.7 L565.5,456.2 L566.1,447.0 L566.7,453.7 L567.3,449.1 L567.8,454.0 L568.4,446.7 L569.0,455.6 L569.5,444.5 L570.1,453.5 L570.6,445.0 L571.2,453.3 L571.8,443.5 L572.4,451.8 L573.0,445.5 L573.5,450.2 L574.1,444.4 L574.7,449.6 L575.3,444.3 L575.8,449.6 L576.4,444.7 L576.9,450.1 L577.5,444.3 L578.1,449.9 L578.6,440.1 L579.2,449.1 L579.7,442.0 L580.3,447.6 L580.9,442.0 L581.4,447.1 L582.0,440.0 L582.6,447.9 L583.2,439.9 L583.7,444.8 L584.3,439.1 L584.9,445.9 L585.5,437.6 L586.1,443.0 L586.6,438.0 L587.2,443.1 L587.8,436.3 L588.4,442.5 L589.0,435.8 L589.6,442.0 L590.1,433.1 L590.7,441.7 L591.3,435.9 L591.9,440.6 L592.5,433.8 L593.1,440.1 L593.7,435.6 L594.3,440.3 L594.9,435.4 L595.6,440.4 L596.2,434.7 L596.8,438.7 L597.4,432.6 L598.0,439.7 L598.6,431.9 L599.3,439.6 L599.9,433.3 L600.5,438.0 L601.1,430.6 L601.7,437.1 L602.3,432.0 L602.9,436.7 L603.5,429.8 L604.1,438.6 L604.7,430.5 L605.3,436.0 L605.9,429.9 L606.5,434.6 L607.1,430.6 L607.7,435.2 L608.3,429.4 L608.9,433.3 L609.4,428.6 L610.0,434.9 L610.5,425.3 L611.0,433.7 L611.4,427.6 L611.9,431.1 L612.3,427.5 L612.7,430.8 L613.0,424.7 L613.4,429.2 L613.8,422.3 L614.1,428.2 L614.5,422.6 L614.8,427.8 L615.2,421.9 L615.5,426.0 L615.8,421.0 L616.1,424.5 L616.4,419.5 L616.7,424.3 L617.0,419.7 L617.2,422.1 L617.5,417.1 L617.8,420.7 L618.0,414.8 L618.2,419.4 L618.5,413.9 L618.7,417.7 L618.9,412.0 L619.1,417.2 L619.3,412.8 L619.5,415.5 L619.7,410.8 L619.8,414.9 L620.0,409.5 L620.2,414.1 L620.3,408.5 L620.5,412.7 L620.6,408.2 L620.8,410.9 L620.9,407.2 L621.1,410.7 L621.2,404.7 L621.3,408.7 L621.4,404.0 L621.6,407.5 L621.7,403.1 L621.8,404.6 L621.9,401.0 L622.0,403.6 L622.1,399.2 L622.2,402.8 L622.4,399.3 L622.5,400.7 L622.6,399.0 L622.6,399.6 L622.7,397.2 L622.8,399.2 L622.9,397.3 L623.0,397.0 L623.1,392.2 L623.1,394.4 L623.2,393.6 L623.3,394.3 L623.4,392.1 L623.4,393.4 L623.5,390.5 L623.5,391.7 L623.6,389.6 L623.7,390.8 L623.7,388.3 L623.8,389.5 L623.8,387.8 L623.9,387.0 L623.9,385.5 L624.0,387.5 L624.0,384.8 L624.1,384.3 L624.1,383.0 L624.2,383.6 L624.2,382.0 L624.3,383.0 L624.3,380.9 L624.4,382.3 L624.4,380.6 L624.5,379.0 L624.5,379.4 L624.6,381.6 L624.6,378.8 L624.7,377.3 L624.7,374.8 L624.8,376.2 L624.8,375.6 L624.8,374.4 L624.9,373.1 L624.9,374.7 L625.0,373.6 L625.0,374.1 L625.1,373.4 L625.1,371.7 L625.1,369.7 L625.2,369.6 L625.2,369.4 L625.3,369.6 L625.3,368.5 L625.3,367.6 L625.4,366.5 L625.4,366.8 L625.4,365.2 L625.5,362.8 L625.5,363.4 L625.5,364.5 L625.6,361.9 L625.6,361.3 L625.6,360.5 L625.7,358.5 L625.7,357.7 L625.7,357.5 L625.8,357.0 L625.8,357.5 L625.8,357.5 L625.8,356.9 L625.9,355.6 L625.9,354.9 L625.9,353.5 L626.0,352.0 L626.0,352.5 L626.0,353.1 L626.0,351.2 L626.1,350.6 L626.1,350.1 L626.1,348.7 L626.2,348.5 L626.2,349.5 L626.2,348.4 L626.2,345.6 L626.3,344.7 L626.3,346.6 L626.3,345.8 L626.4,344.7 L626.4,344.5 L626.4,343.5 L626.4,342.9 L626.5,340.5 L626.5,339.6 L626.5,341.8 L626.6,341.4 L626.6,339.5 L626.6,338.7 L626.6,337.5 L626.7,337.4 L626.7,337.2 L626.7,338.0 L626.8,337.0 L626.8,334.5 L626.8,333.4 L626.8,331.9 L626.9,330.5 L626.9,331.3 L626.9,330.5 L627.0,330.4 L627.0,331.8 L627.0,329.9 L627.1,327.7 L627.1,327.3 L627.1,327.5 L627.2,327.7 L627.2,326.5 L627.2,324.7 L627.3,324.6 L627.3,324.0 L627.3,323.0 L627.3,321.3 L627.4,319.9 L627.4,320.0 L627.4,320.4 L627.5,320.9 L627.5,322.1 L627.5,321.9 L627.6,319.9 L627.6,319.4 L627.6,318.3 L627.7,316.0 L627.7,317.1 L627.7,316.0 L627.8,313.5 L627.8,313.4 L627.8,314.0 L627.8,313.2 L627.9,312.1 L627.9,311.5 L627.9,309.5 L628.0,309.3 L628.0,309.6 L628.0,308.0 L628.1,306.7 L628.1,306.3 L628.1,306.8 L628.2,307.0 L628.2,305.9 L628.2,305.3 L628.3,304.1 L628.3,303.5 L628.3,302.8 L628.4,300.9 L628.4,300.2 L628.4,300.6 L628.4,300.4 L628.5,300.4 L628.5,298.5 L628.5,297.0 L628.6,297.8 L628.6,296.6 L628.6,295.9 L628.7,295.6 L628.7,294.0 L628.7,294.4 L628.8,293.6 L628.8,292.8 L628.8,292.8 L628.9,290.9 L628.9,289.9 L628.9,289.4 L629.0,288.8 L629.0,288.8 L629.0,287.5 L629.1,287.5 L629.1,288.6 L629.2,288.1 L629.2,286.2 L629.2,283.1 L629.3,282.7 L629.3,283.5 L629.3,283.5 L629.4,282.6 L629.4,281.7 L629.4,281.5 L629.5,279.8 L629.5,280.3 L629.6,279.9 L629.6,278.3 L629.6,279.1 L629.7,277.7 L629.7,276.4 L629.8,277.3 L629.8,276.5 L629.8,275.4 L629.9,275.2 L629.9,274.0 L630.0,273.6 L630.0,272.7 L630.1,271.4 L630.1,271.6 L630.1,271.2 L630.2,270.3 L630.2,268.6 L630.3,267.7 L630.3,268.6 L630.4,268.6 L630.4,267.3 L630.4,265.7 L630.5,264.5 L630.5,264.5 L630.6,265.2 L630.6,264.2 L630.7,263.5 L630.7,262.6 L630.7,261.9 L630.8,260.8 L630.8,259.5 L630.9,258.8 L630.9,258.5 L631.0,258.9 L631.0,257.2 L631.0,255.7 L631.1,255.3 L631.1,254.2 L631.2,253.2 L631.2,253.0 L631.2,253.5 L631.3,254.3 L631.3,252.9 L631.3,251.1 L631.4,250.9 L631.4,250.1 L631.5,249.1 L631.5,249.4 L631.5,249.1 L631.6,247.8 L631.6,246.6 L631.6,247.0 L631.7,246.3 L631.7,244.8 L631.7,243.8 L631.8,242.7 L631.8,242.8 L631.8,242.3 L631.9,242.0 L631.9,241.6 L631.9,239.7 L632.0,237.4 L632.0,238.4 L632.0,238.9 L632.0,238.6 L632.1,238.3 L632.1,236.2 L632.1,235.9 L632.2,235.6 L632.2,234.5 L632.2,233.5 L632.3,233.2 L632.3,233.9 L632.3,232.5 L632.3,232.3 L632.4,231.6 L632.4,230.0 L632.4,228.6 L632.5,226.5 L632.5,228.3 L632.5,229.9 L632.5,228.6 L632.6,225.9 L632.6,224.6 L632.6,225.4 L632.7,224.7 L632.7,223.9 L632.7,222.6 L632.7,221.7 L632.8,220.9 L632.8,220.1 L632.8,220.4 L632.9,219.5 L632.9,218.4 L632.9,218.0 L633.0,217.6 L633.0,217.8 L633.0,217.3 L633.0,216.3 L633.1,214.5 L633.1,213.4 L633.1,214.2 L633.2,213.3 L633.2,211.8 L633.2,211.0 L633.3,211.6 L633.3,211.3 L633.3,209.2 L633.3,209.3 L633.4,209.9 L633.4,209.1 L633.4,208.4 L633.5,207.6 L633.5,206.2 L633.5,205.1 L633.6,204.2 L633.6,203.5 L633.7,203.4 L633.7,203.1 L633.7,202.2 L633.8,202.1 L633.8,201.3 L633.8,199.3 L633.9,198.2 L633.9,197.7 L633.9,196.3 L634.0,196.5 L634.0,196.3 L634.1,194.7 L634.1,194.2 L634.1,195.0 L634.2,194.8 L634.2,194.3 L634.2,193.8 L634.3,192.2 L634.3,191.9 L634.3,192.0 L634.4,191.0 L634.4,189.3 L634.5,188.3 L634.5,187.5 L634.5,187.0 L634.6,187.2 L634.6,187.7 L634.7,187.9 L634.7,186.8 L634.7,185.8 L634.8,184.9 L634.8,185.4 L634.9,185.6 L634.9,184.9 L635.0,183.5 L635.0,181.4 L635.0,181.2 L635.1,180.4 L635.1,179.2 L635.2,177.8 L635.3,177.6 L635.3,177.7 L635.4,176.9 L635.4,176.0 L635.5,173.7 L635.6,173.5 L635.6,174.8 L635.7,173.0 L635.8,170.9 L635.9,170.9 L635.9,170.8 L636.0,169.2 L636.1,169.9 L636.2,171.0 L636.2,168.8 L636.3,166.3 L636.4,166.3 L636.5,168.2 L636.7,167.8 L636.9,166.7 L637.3,165.9 L637.5,165.9 L637.6,166.1 L637.7,167.9 L637.8,170.0 L637.9,167.9 L638.0,166.9 L638.1,169.3 L638.2,171.2 L638.3,171.4 L638.4,172.3 L638.5,174.5 L638.6,175.0 L638.6,173.1 L638.7,173.4 L638.8,174.4 L638.8,174.6 L638.9,176.3 L638.9,177.4 L639.0,177.1 L639.0,177.8 L639.1,178.7 L639.1,179.7 L639.2,180.7 L639.2,181.3 L639.3,181.9 L639.3,182.8 L639.4,183.5 L639.4,183.7 L639.5,184.0 L639.5,184.8 L639.6,184.6 L639.6,186.9 L639.7,188.3 L639.7,187.3 L639.8,188.0 L639.8,188.3 L639.9,189.5 L639.9,190.2 L640.0,190.3 L640.0,190.3 L640.1,190.6 L640.1,191.4 L640.2,193.9 L640.2,194.4 L640.3,193.2 L640.3,194.8 L640.4,197.1 L640.4,196.5 L640.5,195.2 L640.5,197.1 L640.6,199.0 L640.6,198.6 L640.7,197.8 L640.7,198.8 L640.7,201.1 L640.8,202.4 L640.8,203.0 L640.9,203.6 L640.9,203.7 L641.0,204.9 L641.0,205.5 L641.1,205.9 L641.1,206.0 L641.2,206.1 L641.2,207.6 L641.3,208.5 L641.3,208.4 L641.3,209.6 L641.4,211.1 L641.4,211.3 L641.5,211.1 L641.5,212.4 L641.6,215.2 L641.6,214.7 L641.6,212.6 L641.7,213.3 L641.7,214.4 L641.8,214.7 L641.8,215.2 L641.9,217.2 L641.9,219.2 L641.9,220.3 L642.0,220.9 L642.0,220.2 L642.1,221.1 L642.1,221.7 L642.1,221.3 L642.2,221.6 L642.2,223.3 L642.3,225.4 L642.3,224.9 L642.3,224.7 L642.4,225.7 L642.4,226.7 L642.5,227.9 L642.5,228.4 L642.5,228.8 L642.6,228.4 L642.6,228.6 L642.6,229.0 L642.7,231.1 L642.7,233.8 L642.8,233.8 L642.8,234.2 L642.8,235.7 L642.9,236.3 L642.9,234.5 L642.9,234.4 L643.0,234.5 L643.0,234.8 L643.1,236.2 L643.1,237.4 L643.1,239.1 L643.2,239.1 L643.2,239.3 L643.2,240.8 L643.3,241.5 L643.3,241.9 L643.4,241.0 L643.4,241.5 L643.4,244.3 L643.5,245.4 L643.5,244.5 L643.6,244.8 L643.6,246.6 L643.6,246.8 L643.7,247.7 L643.7,248.5 L643.8,248.5 L643.8,249.6 L643.9,251.9 L643.9,252.4 L643.9,251.2 L644.0,252.6 L644.0,253.3 L644.1,253.6 L644.1,253.0 L644.1,253.8 L644.2,255.9 L644.2,255.5 L644.3,257.1 L644.3,258.4 L644.4,258.0 L644.4,257.9 L644.4,257.6 L644.5,258.8 L644.5,259.5 L644.6,260.9 L644.6,263.1 L644.7,263.0 L644.7,262.0 L644.7,262.8 L644.8,263.8 L644.8,264.8 L644.9,266.3 L644.9,266.6 L645.0,267.1 L645.0,268.8 L645.0,270.5 L645.1,270.1 L645.1,270.1 L645.2,270.9 L645.2,270.4 L645.3,272.1 L645.3,273.7 L645.4,273.6 L645.4,274.2 L645.4,274.6 L645.5,274.3 L645.5,276.3 L645.6,278.2 L645.6,277.9 L645.7,278.6 L645.7,279.9 L645.8,279.8 L645.8,280.0 L645.9,280.5 L645.9,281.2 L646.0,281.9 L646.0,283.7 L646.0,284.3 L646.1,283.7 L646.1,284.9 L646.2,285.0 L646.2,285.9 L646.3,286.8 L646.3,286.5 L646.4,287.2 L646.4,287.6 L646.5,289.1 L646.5,290.7 L646.6,291.2 L646.6,290.5 L646.7,290.6 L646.7,291.7 L646.8,292.2 L646.8,294.3 L646.9,295.0 L646.9,294.7 L647.0,295.9 L647.0,297.4 L647.1,298.6 L647.1,297.2 L647.2,296.8 L647.2,298.4 L647.3,298.2 L647.3,299.2 L647.4,299.7 L647.4,298.7 L647.5,299.5 L647.5,301.5 L647.6,304.2 L647.6,304.5 L647.7,303.0 L647.7,302.7 L647.8,303.9 L647.8,305.8 L647.9,306.8 L648.0,306.6 L648.0,306.6 L648.1,306.6 L648.1,308.0 L648.2,309.1 L648.2,307.6 L648.3,310.3 L648.3,313.3 L648.4,313.4 L648.4,313.9 L648.5,313.5 L648.6,314.7 L648.6,315.3 L648.7,316.6 L648.7,318.2 L648.8,316.0 L648.8,317.2 L648.9,320.7 L649.0,320.5 L649.0,320.5 L649.1,321.2 L649.1,320.5 L649.2,319.3 L649.2,321.4 L649.3,323.7 L649.4,323.7 L649.4,323.8 L649.5,323.4 L649.5,325.9 L649.6,326.9 L649.6,326.4 L649.7,326.3 L649.8,327.4 L649.8,329.7 L649.9,329.8 L650.0,329.7 L650.0,329.7 L650.1,331.7 L650.1,332.8 L650.2,332.2 L650.3,334.7 L650.3,335.3 L650.4,333.3 L650.5,333.4 L650.5,335.0 L650.6,337.9 L650.6,339.0 L650.7,338.0 L650.8,339.1 L650.8,341.0 L650.9,340.4 L651.0,341.1 L651.1,343.1 L651.1,343.0 L651.2,340.9 L651.3,341.3 L651.3,345.2 L651.4,345.4 L651.5,346.8 L651.6,347.8 L651.6,345.6 L651.7,346.7 L651.8,348.5 L651.9,349.3 L651.9,349.5 L652.0,350.6 L652.1,350.9 L652.2,350.5 L652.2,350.6 L652.3,350.4 L652.4,352.3 L652.5,353.1 L652.5,353.2 L652.6,354.2 L652.7,355.5 L652.8,357.0 L652.9,358.1 L652.9,359.0 L653.0,359.1 L653.1,358.4 L653.2,357.4 L653.3,358.2 L653.3,359.5 L653.4,358.8 L653.5,361.7 L653.6,362.4 L653.7,361.8 L653.8,364.7 L653.9,364.8 L653.9,367.3 L654.0,368.2 L654.1,365.7 L654.2,368.0 L654.3,368.6 L654.4,366.2 L654.5,366.6 L654.6,368.0 L654.7,369.7 L654.8,371.3 L654.9,370.4 L655.0,371.0 L655.1,375.4 L655.2,375.0 L655.3,373.3 L655.4,375.3 L655.5,377.3 L655.6,376.6 L655.7,375.0 L655.9,375.3 L656.0,378.0 L656.1,380.6 L656.2,377.9 L656.3,375.5 L656.5,377.0 L656.6,378.3 L656.7,380.6 L656.8,383.1 L656.9,385.3 L657.1,386.6 L657.2,385.3 L657.3,386.3 L657.5,385.9 L657.6,383.8 L657.7,385.4 L657.9,388.6 L658.0,387.4 L658.2,388.0 L658.3,391.3 L658.4,390.4 L658.6,390.3 L658.7,391.2 L658.9,391.7 L659.0,393.6 L659.2,393.2 L659.4,394.1 L659.5,396.6 L659.7,397.1 L659.8,394.5 L660.0,392.0 L660.2,395.6 L660.4,397.7 L660.5,396.7 L660.7,397.1 L660.9,397.0 L661.1,398.2 L661.3,399.5 L661.5,399.7 L661.7,401.7 L661.9,401.7 L662.2,403.1 L662.4,402.4 L662.6,404.7 L662.8,406.4 L663.1,404.6 L663.3,408.0 L663.5,407.9 L663.8,408.3 L664.0,408.8 L664.3,406.2 L664.6,407.4 L664.8,411.7 L665.1,411.1 L665.4,408.1 L665.6,408.6 L665.9,411.8 L666.2,413.5 L666.5,415.2 L666.8,416.1 L667.1,415.9 L667.4,413.0 L667.7,415.9 L668.0,419.3 L668.3,418.0 L668.7,418.0 L669.0,417.2 L669.3,418.3 L669.6,421.3 L670.0,423.9 L670.3,423.1 L670.7,424.4 L671.0,423.5 L671.4,421.9 L671.7,422.4 L672.1,424.1 L672.5,425.3 L672.8,425.4 L673.2,428.5 L673.6,424.4 L674.1,425.6 L674.5,429.7 L674.9,426.4 L675.4,423.4 L675.8,423.9 L676.3,423.7 L676.7,424.8 L677.2,428.6 L677.7,431.8 L678.2,432.0 L678.7,431.2 L679.2,434.1 L679.7,436.2 L680.2,434.3 L680.7,432.5 L681.2,430.8 L681.7,428.0 L682.2,430.5 L682.7,432.7 L683.3,431.5 L683.8,431.2 L684.3,434.9 L684.8,435.2 L685.3,434.1 L685.9,433.7 L686.4,436.9 L686.9,442.1 L687.5,440.3 L688.0,437.2 L688.6,440.3 L689.1,441.7 L689.7,437.7 L690.3,434.5 L690.9,434.9 L691.5,441.9 L692.1,442.1 L692.7,443.7 L693.3,445.0 L693.9,439.4 L694.5,442.1 L695.1,442.3 L695.7,440.7 L696.3,439.4 L697.0,436.5 L697.6,437.3 L698.2,440.3 L698.8,440.7 L699.4,436.8 L700.0,439.2 L700.6,442.9 L701.2,441.8 L701.7,441.2 L702.3,437.8 L702.9,442.3 L703.4,446.0 L704.0,444.3 L704.6,448.1 L705.2,449.6 L705.8,447.6 L706.3,445.7 L706.9,446.2 L707.6,448.1 L708.2,448.8 L708.8,446.4 L709.4,446.3 L710.1,447.9 L710.7,448.4 L711.4,448.1 L712.0,449.3 L712.7,449.3 L713.3,448.3 L714.0,448.0 L714.6,445.1 L715.3,443.1 L715.9,443.8 L716.5,446.5 L717.2,449.1 L717.8,447.8 L718.5,444.2 L719.1,443.3 L719.7,446.6 L720.3,447.6 L721.0,444.0 L721.6,445.1 L722.2,443.4 L722.9,442.0 L723.5,444.2 L724.1,443.4 L724.6,441.1 L725.2,442.9 L725.8,447.9 L726.3,443.2 L726.9,439.9 L727.4,443.2 L727.9,446.9 L728.5,444.5 L729.0,438.1 L729.5,438.4 L730.0,443.6 L730.5,443.4 L731.0,439.7 L731.5,442.5 L732.0,437.5 L732.5,429.6 L733.0,435.0 L733.5,440.1 L734.0,435.4 L734.5,434.5 L735.0,436.8 L735.5,435.8 L736.0,433.8 L736.5,432.1 L737.0,431.5 L737.5,432.0 L737.9,432.8 L738.4,435.4 L738.8,436.6 L739.3,429.9 L739.7,429.0 L740.2,434.2 L740.6,433.5 L741.0,432.3 L741.4,431.2 L741.8,430.0 L742.2,427.8 L742.6,427.4 L743.0,426.1 L743.3,426.5 L743.7,425.7 L744.0,419.3 L744.4,422.3 L744.7,425.0 L745.0,423.7 L745.3,424.2 L745.6,423.4 L745.9,420.6 L746.2,420.4 L746.5,421.8 L746.7,421.7 L747.0,423.7 L747.3,421.1 L747.5,417.5 L747.8,418.9 L748.0,417.5 L748.3,414.2 L748.5,413.5 L748.8,416.3 L749.0,416.1 L749.2,414.9 L749.5,413.6 L749.7,412.7 L749.9,412.2 L750.1,409.7 L750.4,410.3 L750.6,410.9 L750.8,412.3 L751.0,409.3 L751.2,407.3 L751.4,411.2 L751.6,411.7 L751.8,408.3 L752.0,404.9 L752.2,404.1 L752.4,404.9 L752.6,405.2 L752.7,404.6 L752.9,404.6 L753.1,402.0 L753.3,399.0 L753.4,398.1 L753.6,397.2 L753.8,398.1 L753.9,399.8 L754.1,402.8 L754.3,402.4 L754.4,398.4 L754.6,398.9 L754.7,397.3 L754.9,395.2 L755.0,396.9 L755.2,396.9 L755.3,395.5 L755.5,393.3 L755.7,390.4 L755.8,390.0 L756.0,390.3 L756.1,390.8 L756.3,390.8 L756.4,390.0 L756.6,387.3 L756.7,387.2 L756.9,387.7 L757.0,383.5 L757.1,382.2 L757.3,382.8 L757.4,385.6 L757.6,386.9 L757.7,383.0 L757.8,381.5 L758.0,382.4 L758.1,379.5 L758.2,377.6 L758.4,376.3 L758.5,375.8 L758.6,374.3 L758.8,373.8 L758.9,375.6 L759.0,374.9 L759.2,374.4 L759.3,376.5 L759.4,376.5 L759.5,374.6 L759.7,375.5 L759.8,375.8 L759.9,375.1 L760.0,372.4 L760.2,369.3 L760.3,368.3 L760.4,368.6 L760.5,369.0 L760.7,368.9 L760.8,369.8 L760.9,369.1 L761.0,369.5 L761.1,370.4 L761.3,366.6 L761.4,365.7 L761.5,361.8 L761.6,361.8 L761.8,365.8 L761.9,363.8 L762.0,360.2 L762.1,362.5 L762.2,363.9 L762.4,359.5 L762.5,360.8 L762.6,360.1 L762.7,356.7 L762.8,357.3 L762.9,356.4 L763.0,355.9 L763.2,356.8 L763.3,356.7 L763.4,354.2 L763.5,353.7 L763.6,355.2 L763.7,355.6 L763.8,353.6 L763.9,352.8 L764.0,354.1 L764.1,351.9 L764.2,349.3 L764.3,348.3 L764.4,349.6 L764.5,347.0 L764.7,343.8 L764.8,343.3 L764.9,346.3 L765.0,347.0 L765.1,345.6 L765.2,345.1 L765.3,343.3 L765.4,342.6 L765.5,341.2 L765.6,342.0 L765.7,342.2 L765.8,340.1 L765.9,337.3 L766.0,336.8 L766.1,337.1 L766.2,335.4 L766.4,337.1 L766.5,335.7 L766.6,333.3 L766.7,335.1 L766.8,336.3 L766.9,334.1 L767.0,332.3 L767.2,332.7 L767.3,330.1 L767.4,326.0 L767.5,324.3 L767.7,327.5 L767.8,329.7 L767.9,326.3 L768.1,324.6 L768.2,325.3 L768.4,325.1 L768.5,325.0 L768.6,328.0 L768.8,326.3 L768.9,322.7 L769.1,322.1 L769.2,320.4 L769.4,319.6 L769.5,319.5 L769.7,319.4 L769.8,319.5 L770.0,320.0 L770.1,317.6 L770.3,319.4 L770.4,318.4 L770.6,315.5 L770.7,319.6 L770.9,317.5 L771.1,315.7 L771.3,318.1 L771.4,316.0 L771.6,310.8 L771.8,311.7 L772.0,313.8 L772.2,310.4 L772.4,311.5 L772.7,310.6 L772.9,309.7 L773.1,309.4 L773.4,308.0 L773.6,306.6 L773.8,304.7 L774.1,304.3 L774.4,303.3 L774.7,304.3 L775.0,304.5 L775.5,304.1 L776.1,306.2 L776.7,306.1 L777.1,302.0 L777.5,302.3 L777.9,305.6 L778.3,308.0 L778.6,309.9 L778.9,310.4 L779.1,309.2 L779.3,309.4 L779.5,308.3 L779.7,309.8 L779.8,313.2 L780.0,312.7 L780.1,312.1 L780.3,312.1 L780.4,312.3 L780.5,313.7 L780.7,313.4 L780.8,314.6 L780.9,318.0 L781.0,320.1 L781.1,319.9 L781.3,317.5 L781.4,318.5 L781.5,319.3 L781.6,319.5 L781.7,318.5 L781.8,317.7 L781.9,319.1 L782.0,320.9 L782.1,320.7 L782.2,320.1 L782.4,322.0 L782.5,325.4 L782.6,326.2 L782.7,326.7 L782.8,329.1 L782.9,329.8 L783.0,328.5 L783.1,327.4 L783.2,325.9 L783.3,326.2 L783.4,330.2 L783.5,330.3 L783.6,332.2 L783.8,336.5 L783.8,334.6 L783.9,334.5 L784.0,333.6 L784.1,331.4 L784.2,333.6 L784.3,335.8 L784.4,336.7 L784.5,336.1 L784.6,339.8 L784.7,342.2 L784.8,340.4 L784.9,341.6 L784.9,342.1 L785.0,341.4 L785.1,340.9 L785.2,339.5 L785.3,343.2 L785.4,344.9 L785.4,340.9 L785.5,341.7 L785.6,342.5 L785.7,347.2 L785.8,350.7 L785.9,350.5 L785.9,352.7 L786.0,352.1 L786.1,351.5 L786.2,350.3 L786.3,349.9 L786.4,350.8 L786.4,351.6 L786.5,352.1 L786.6,354.5 L786.7,357.3 L786.8,355.9 L786.9,353.0 L786.9,354.8 L787.0,359.2 L787.1,358.8 L787.2,356.3 L787.3,357.6 L787.4,361.7 L787.5,358.9 L787.6,358.8 L787.7,359.6 L787.8,359.5 L787.9,365.4 L788.0,366.0 L788.1,364.8 L788.2,364.9 L788.3,364.8 L788.4,369.3 L788.5,371.9 L788.6,368.7 L788.7,366.8 L788.8,368.0 L788.9,372.4 L789.0,373.3 L789.1,372.3 L789.3,372.1 L789.4,369.3 L789.5,372.4 L789.6,374.8 L789.7,372.3 L789.8,372.1 L790.0,372.9 L790.1,373.6 L790.2,372.9 L790.3,376.3 L790.4,379.9 L790.6,380.2 L790.7,379.7 L790.8,379.4 L790.9,380.8 L791.0,382.9 L791.2,384.6 L791.3,383.9 L791.4,382.0 L791.5,379.9 L791.7,380.2 L791.8,381.8 L791.9,382.9 L792.0,382.4 L792.2,387.2 L792.3,390.5 L792.4,384.5 L792.5,382.2 L792.7,384.4 L792.8,387.2 L792.9,392.8 L793.0,390.8 L793.2,391.0 L793.3,392.4 L793.4,394.7 L793.5,397.9 L793.7,397.6 L793.8,396.3 L793.9,397.5 L794.0,394.9 L794.1,394.1 L794.3,395.2 L794.4,398.9 L794.5,396.3 L794.6,399.0 L794.7,398.4 L794.8,399.5 L795.0,396.1 L795.1,404.6 L795.2,402.2 L795.3,406.3 L795.4,403.0 L795.5,400.9 L795.6,401.9 L795.8,408.0 L795.9,405.0 L796.0,407.2 L796.1,409.0 L796.2,412.9 L796.3,408.8 L796.5,409.7 L796.6,405.6 L796.7,408.3 L796.8,410.0 L796.9,417.5 L797.1,410.8 L797.2,411.4 L797.3,408.5 L797.4,418.1 L797.6,409.8 L797.7,411.3 L797.8,414.6 L798.0,423.4 L798.1,414.5 L798.3,418.7 L798.4,418.4 L798.6,423.4 L798.7,418.9 L798.9,421.1 L799.0,418.6 L799.2,426.4 L799.4,420.7 L799.5,427.0 L799.7,420.7 L799.8,427.9 L800.0,423.1 L800.2,431.1 L800.4,424.4 L800.5,427.6 L800.7,422.5 L800.9,432.3 L801.1,424.7 L801.2,438.8 L801.4,432.5 L801.6,439.5 L801.8,431.5 L802.0,436.7 L802.2,434.3 L802.4,440.9 L802.6,430.8 L802.8,440.2 L803.0,430.9 L803.2,441.0 L803.4,433.1 L803.7,442.3 L803.9,432.9 L804.2,438.3 L804.4,429.3 L804.7,440.7 L804.9,435.6 L805.2,439.2 L805.5,431.0 L805.8,439.6 L806.1,436.9 L806.4,446.8 L806.7,437.7 L807.1,442.7 L807.4,434.8 L807.7,448.4 L808.1,440.7 L808.4,451.0 L808.8,443.8 L809.1,449.3 L809.5,438.6 L809.8,453.9 L810.2,443.9 L810.5,450.6 L810.8,443.9 L811.2,454.0 L811.5,443.6 L811.8,457.8 L812.1,455.3 L812.4,465.1 L812.7,452.8 L813.0,459.4 L813.3,454.4 L813.5,465.6 L813.8,457.8 L814.1,465.8 L814.4,460.7 L814.7,472.6 L814.9,454.1 L815.2,461.6 L815.5,453.3 L815.7,457.9 L816.0,449.1 L816.3,463.2 L816.5,455.6 L816.8,463.8 L817.1,454.5 L817.3,463.3 L817.6,464.5 L817.8,471.2 L818.1,460.4 L818.3,469.7 L818.6,460.5 L818.9,472.6" fill="none" stroke="#2641f5" stroke-width="3.1" stroke-linejoin="round" stroke-linecap="butt"/>
</g>
<line x1="181.1" y1="0.8" x2="181.1" y2="17.0" stroke="#000" stroke-width="1.8"/>
<line x1="181.1" y1="457.7" x2="181.1" y2="489.7" stroke="#000" stroke-width="1.8"/>
<line x1="181.1" y1="931.4" x2="181.1" y2="947.0" stroke="#000" stroke-width="1.8"/>
<line x1="321.5" y1="0.8" x2="321.5" y2="17.0" stroke="#000" stroke-width="1.8"/>
<line x1="321.5" y1="457.7" x2="321.5" y2="489.7" stroke="#000" stroke-width="1.8"/>
<line x1="321.5" y1="931.4" x2="321.5" y2="947.0" stroke="#000" stroke-width="1.8"/>
<line x1="462.0" y1="0.8" x2="462.0" y2="17.0" stroke="#000" stroke-width="1.8"/>
<line x1="462.0" y1="457.7" x2="462.0" y2="489.7" stroke="#000" stroke-width="1.8"/>
<line x1="462.0" y1="931.4" x2="462.0" y2="947.0" stroke="#000" stroke-width="1.8"/>
<line x1="602.4" y1="0.8" x2="602.4" y2="17.0" stroke="#000" stroke-width="1.8"/>
<line x1="602.4" y1="457.7" x2="602.4" y2="489.7" stroke="#000" stroke-width="1.8"/>
<line x1="602.4" y1="931.4" x2="602.4" y2="947.0" stroke="#000" stroke-width="1.8"/>
<line x1="742.8" y1="0.8" x2="742.8" y2="17.0" stroke="#000" stroke-width="1.8"/>
<line x1="742.8" y1="457.7" x2="742.8" y2="489.7" stroke="#000" stroke-width="1.8"/>
<line x1="742.8" y1="931.4" x2="742.8" y2="947.0" stroke="#000" stroke-width="1.8"/>
<line x1="110.9" y1="0.8" x2="110.9" y2="9.0" stroke="#000" stroke-width="1.8"/>
<line x1="110.9" y1="465.9" x2="110.9" y2="481.5" stroke="#000" stroke-width="1.8"/>
<line x1="110.9" y1="939.2" x2="110.9" y2="947.0" stroke="#000" stroke-width="1.8"/>
<line x1="251.3" y1="0.8" x2="251.3" y2="9.0" stroke="#000" stroke-width="1.8"/>
<line x1="251.3" y1="465.9" x2="251.3" y2="481.5" stroke="#000" stroke-width="1.8"/>
<line x1="251.3" y1="939.2" x2="251.3" y2="947.0" stroke="#000" stroke-width="1.8"/>
<line x1="391.7" y1="0.8" x2="391.7" y2="9.0" stroke="#000" stroke-width="1.8"/>
<line x1="391.7" y1="465.9" x2="391.7" y2="481.5" stroke="#000" stroke-width="1.8"/>
<line x1="391.7" y1="939.2" x2="391.7" y2="947.0" stroke="#000" stroke-width="1.8"/>
<line x1="532.2" y1="0.8" x2="532.2" y2="9.0" stroke="#000" stroke-width="1.8"/>
<line x1="532.2" y1="465.9" x2="532.2" y2="481.5" stroke="#000" stroke-width="1.8"/>
<line x1="532.2" y1="939.2" x2="532.2" y2="947.0" stroke="#000" stroke-width="1.8"/>
<line x1="672.6" y1="0.8" x2="672.6" y2="9.0" stroke="#000" stroke-width="1.8"/>
<line x1="672.6" y1="465.9" x2="672.6" y2="481.5" stroke="#000" stroke-width="1.8"/>
<line x1="672.6" y1="939.2" x2="672.6" y2="947.0" stroke="#000" stroke-width="1.8"/>
<line x1="813.0" y1="0.8" x2="813.0" y2="9.0" stroke="#000" stroke-width="1.8"/>
<line x1="813.0" y1="465.9" x2="813.0" y2="481.5" stroke="#000" stroke-width="1.8"/>
<line x1="813.0" y1="939.2" x2="813.0" y2="947.0" stroke="#000" stroke-width="1.8"/>
<line x1="97.0" y1="449.8" x2="113.0" y2="449.8" stroke="#000" stroke-width="1.8"/>
<line x1="97.0" y1="286.6" x2="113.0" y2="286.6" stroke="#000" stroke-width="1.8"/>
<line x1="97.0" y1="123.4" x2="113.0" y2="123.4" stroke="#000" stroke-width="1.8"/>
<line x1="97.0" y1="368.2" x2="105.0" y2="368.2" stroke="#000" stroke-width="1.8"/>
<line x1="97.0" y1="205.0" x2="105.0" y2="205.0" stroke="#000" stroke-width="1.8"/>
<line x1="97.0" y1="41.8" x2="105.0" y2="41.8" stroke="#000" stroke-width="1.8"/>
<line x1="97.0" y1="923.0" x2="113.0" y2="923.0" stroke="#000" stroke-width="1.8"/>
<line x1="97.0" y1="759.8" x2="113.0" y2="759.8" stroke="#000" stroke-width="1.8"/>
<line x1="97.0" y1="596.6" x2="113.0" y2="596.6" stroke="#000" stroke-width="1.8"/>
<line x1="97.0" y1="841.4" x2="105.0" y2="841.4" stroke="#000" stroke-width="1.8"/>
<line x1="97.0" y1="678.2" x2="105.0" y2="678.2" stroke="#000" stroke-width="1.8"/>
<line x1="97.0" y1="515.0" x2="105.0" y2="515.0" stroke="#000" stroke-width="1.8"/>
<line x1="799.0" y1="449.8" x2="820.0" y2="449.8" stroke="#2641f5" stroke-width="1.7"/>
<line x1="799.0" y1="336.3" x2="820.0" y2="336.3" stroke="#2641f5" stroke-width="1.7"/>
<line x1="799.0" y1="222.8" x2="820.0" y2="222.8" stroke="#2641f5" stroke-width="1.7"/>
<line x1="799.0" y1="109.3" x2="820.0" y2="109.3" stroke="#2641f5" stroke-width="1.7"/>
<line x1="809.8" y1="393.1" x2="820.0" y2="393.1" stroke="#2641f5" stroke-width="1.7"/>
<line x1="809.8" y1="279.6" x2="820.0" y2="279.6" stroke="#2641f5" stroke-width="1.7"/>
<line x1="809.8" y1="166.1" x2="820.0" y2="166.1" stroke="#2641f5" stroke-width="1.7"/>
<line x1="809.8" y1="52.6" x2="820.0" y2="52.6" stroke="#2641f5" stroke-width="1.7"/>
<line x1="799.0" y1="923.0" x2="820.0" y2="923.0" stroke="#00807f" stroke-width="1.7"/>
<line x1="799.0" y1="809.5" x2="820.0" y2="809.5" stroke="#00807f" stroke-width="1.7"/>
<line x1="799.0" y1="696.0" x2="820.0" y2="696.0" stroke="#00807f" stroke-width="1.7"/>
<line x1="799.0" y1="582.5" x2="820.0" y2="582.5" stroke="#00807f" stroke-width="1.7"/>
<line x1="809.8" y1="866.2" x2="820.0" y2="866.2" stroke="#00807f" stroke-width="1.7"/>
<line x1="809.8" y1="752.8" x2="820.0" y2="752.8" stroke="#00807f" stroke-width="1.7"/>
<line x1="809.8" y1="639.2" x2="820.0" y2="639.2" stroke="#00807f" stroke-width="1.7"/>
<line x1="809.8" y1="525.8" x2="820.0" y2="525.8" stroke="#00807f" stroke-width="1.7"/>
<line x1="97.0" y1="0.0" x2="97.0" y2="948.0" stroke="#000" stroke-width="2.1"/>
<line x1="96.0" y1="0.8" x2="820.0" y2="0.8" stroke="#000" stroke-width="1.9"/>
<line x1="97.0" y1="473.7" x2="820.0" y2="473.7" stroke="#000" stroke-width="1.9"/>
<line x1="96.0" y1="947.0" x2="821.0" y2="947.0" stroke="#000" stroke-width="2.0"/>
<line x1="820.0" y1="0.0" x2="820.0" y2="473.7" stroke="#2641f5" stroke-width="2.1"/>
<line x1="820.0" y1="473.7" x2="820.0" y2="948.0" stroke="#00807f" stroke-width="2.1"/>
<text x="182.1" y="992.6" text-anchor="middle" fill="#000" >1.3</text>
<text x="322.5" y="992.6" text-anchor="middle" fill="#000" >1.4</text>
<text x="463.0" y="992.6" text-anchor="middle" fill="#000" >1.5</text>
<text x="603.4" y="992.6" text-anchor="middle" fill="#000" >1.6</text>
<text x="743.8" y="992.6" text-anchor="middle" fill="#000" >1.7</text>
<text x="80.6" y="460.7" text-anchor="end" fill="#000" >0</text>
<text x="80.6" y="297.5" text-anchor="end" fill="#000" >1</text>
<text x="80.6" y="134.3" text-anchor="end" fill="#000" >2</text>
<text x="80.6" y="933.9" text-anchor="end" fill="#000" >0</text>
<text x="80.6" y="770.7" text-anchor="end" fill="#000" >1</text>
<text x="80.6" y="607.5" text-anchor="end" fill="#000" >2</text>
<text x="842.8" y="461.6" text-anchor="start" fill="#2641f5" >0.0</text>
<text x="842.8" y="348.1" text-anchor="start" fill="#2641f5" >0.2</text>
<text x="842.8" y="234.6" text-anchor="start" fill="#2641f5" >0.4</text>
<text x="842.8" y="121.1" text-anchor="start" fill="#2641f5" >0.6</text>
<text x="842.8" y="933.5" text-anchor="start" fill="#00807f" >0.0</text>
<text x="842.8" y="820.0" text-anchor="start" fill="#00807f" >0.2</text>
<text x="842.8" y="706.5" text-anchor="start" fill="#00807f" >0.4</text>
<text x="842.8" y="593.0" text-anchor="start" fill="#00807f" >0.6</text>
<text x="458.6" y="1035.6" text-anchor="middle" fill="#000" >Energy (eV)</text>
<text transform="translate(945.7,237.0) rotate(-90)" text-anchor="middle" fill="#2641f5">DR</text>
<text transform="translate(945.7,710.2) rotate(-90)" text-anchor="middle" fill="#00807f">DR</text>
<text transform="translate(28.0,446.0) rotate(-90)" fill="#000">PL intensity <tspan dx="1.7">(</tspan><tspan dx="-1.4">cts</tspan><tspan font-size="22" dx="6.3" dy="-1.5">•</tspan><tspan dx="5.8" dy="1.5">s</tspan><tspan font-size="23" dy="-12.3" dx="0.2">-<tspan dx="1.4">1</tspan></tspan><tspan font-size="22" dx="3.6" dy="10.8">•</tspan><tspan dx="4.2" dy="1.5" font-style="italic">μ</tspan><tspan dx="1.5">W</tspan><tspan font-size="23" dy="-12.3" dx="1.4">-<tspan dx="1.4">1</tspan></tspan><tspan dy="12.3" dx="0">)</tspan></text>
<text transform="translate(28.0,919.2) rotate(-90)" fill="#000">PL intensity <tspan dx="1.7">(</tspan><tspan dx="-1.4">cts</tspan><tspan font-size="22" dx="6.3" dy="-1.5">•</tspan><tspan dx="5.8" dy="1.5">s</tspan><tspan font-size="23" dy="-12.3" dx="0.2">-<tspan dx="1.4">1</tspan></tspan><tspan font-size="22" dx="3.6" dy="10.8">•</tspan><tspan dx="4.2" dy="1.5" font-style="italic">μ</tspan><tspan dx="1.5">W</tspan><tspan font-size="23" dy="-12.3" dx="1.4">-<tspan dx="1.4">1</tspan></tspan><tspan dy="12.3" dx="0">)</tspan></text>
<text x="123.9" y="52.2" text-anchor="start" fill="#000" font-weight="bold">a</text>
<line x1="197.6" y1="50.7" x2="238.2" y2="50.7" stroke="#000" stroke-width="2.5"/>
<line x1="197.6" y1="95.5" x2="238.2" y2="95.5" stroke="#2641f5" stroke-width="2.5"/>
<text x="248.3" y="63.0" text-anchor="start" fill="#000" >PL</text>
<text x="248.3" y="107.8" text-anchor="start" fill="#000" >DR</text>
<text x="720.7" y="63.3" text-anchor="start" fill="#000" >HBL</text>
<text x="400.9" y="435.4"><tspan font-size="28" dy="-1.9" stroke="#000" stroke-width="0.55">×</tspan><tspan dx="2.2" dy="1.9">5</tspan></text>
<text x="123.9" y="528.9" text-anchor="start" fill="#000" font-weight="bold">b</text>
<line x1="198.9" y1="523.9" x2="239.5" y2="523.9" stroke="#808080" stroke-width="2.5"/>
<line x1="197.6" y1="568.7" x2="238.2" y2="568.7" stroke="#00807f" stroke-width="2.5"/>
<text x="249.2" y="535.7" text-anchor="start" fill="#000" >PL</text>
<text x="248.3" y="581.0" text-anchor="start" fill="#000" >DR</text>
<text x="720.7" y="535.8" text-anchor="start" fill="#000" >HTL</text>
<text x="400.9" y="908.6"><tspan font-size="28" dy="-1.9" stroke="#000" stroke-width="0.55">×</tspan><tspan dx="2.2" dy="1.9">5</tspan></text>
<g fill="#fff"><rect x="159.12" y="989.46" width="7.01" height="3.79"/><rect x="169.31" y="989.46" width="6.73" height="3.79"/></g>
<g fill="#fff"><rect x="299.52" y="989.46" width="7.01" height="3.79"/><rect x="309.71" y="989.46" width="6.73" height="3.79"/></g>
<g fill="#fff"><rect x="440.02" y="989.46" width="7.01" height="3.79"/><rect x="450.21" y="989.46" width="6.73" height="3.79"/></g>
<g fill="#fff"><rect x="580.42" y="989.46" width="7.01" height="3.79"/><rect x="590.61" y="989.46" width="6.73" height="3.79"/></g>
<g fill="#fff"><rect x="720.82" y="989.46" width="7.01" height="3.79"/><rect x="731.01" y="989.46" width="6.73" height="3.79"/></g>
<g fill="#fff"><rect x="62.61" y="294.36" width="7.01" height="3.79"/><rect x="72.80" y="294.36" width="6.73" height="3.79"/></g>
<g fill="#fff"><rect x="62.61" y="767.56" width="7.01" height="3.79"/><rect x="72.80" y="767.56" width="6.73" height="3.79"/></g>
<g transform="translate(28.0,446.0) rotate(-90)" fill="#fff"><rect x="301.21" y="-14.47" width="4.73" height="2.82"/><rect x="307.97" y="-14.47" width="4.55" height="2.82"/></g>
<g transform="translate(28.0,446.0) rotate(-90)" fill="#fff"><rect x="395.20" y="-14.47" width="4.73" height="2.82"/><rect x="401.96" y="-14.47" width="4.55" height="2.82"/></g>
<g transform="translate(28.0,919.2) rotate(-90)" fill="#fff"><rect x="301.21" y="-14.47" width="4.73" height="2.82"/><rect x="307.97" y="-14.47" width="4.55" height="2.82"/></g>
<g transform="translate(28.0,919.2) rotate(-90)" fill="#fff"><rect x="395.20" y="-14.47" width="4.73" height="2.82"/><rect x="401.96" y="-14.47" width="4.55" height="2.82"/></g>
</svg>
</body>
</html>
